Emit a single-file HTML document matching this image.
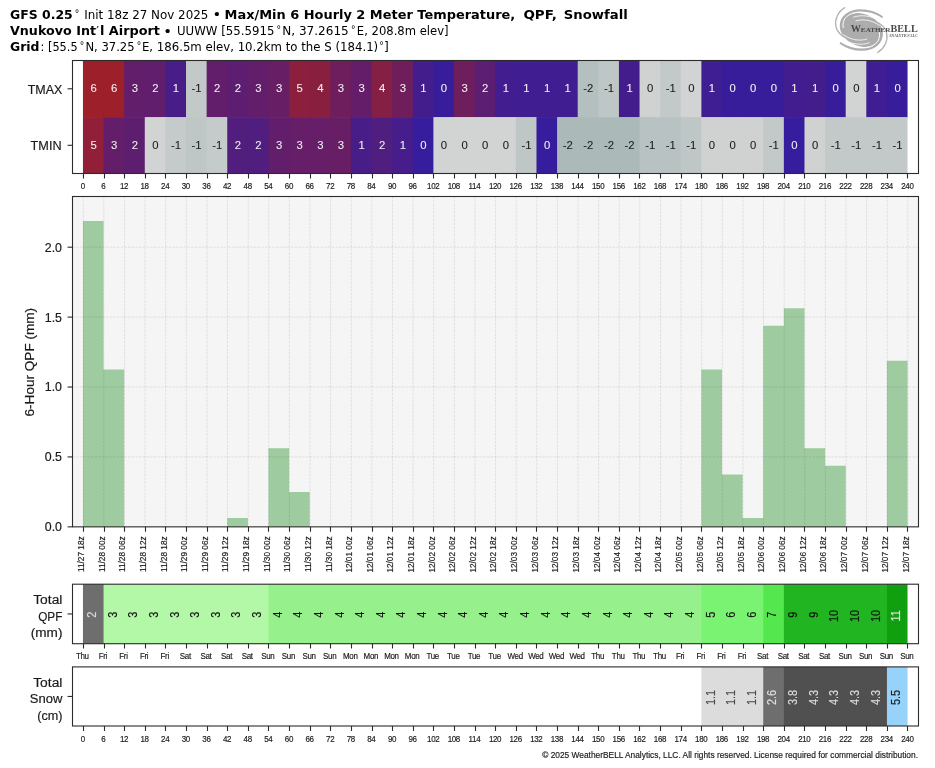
<!DOCTYPE html>
<html lang="en">
<head>
<meta charset="utf-8">
<title>GFS 0.25 Max/Min 6 Hourly 2 Meter Temperature, QPF, Snowfall - Vnukovo Int'l Airport</title>
<style>
html,body{margin:0;padding:0;background:#fff;}
body{width:935px;height:768px;overflow:hidden;}
svg{display:block;}
text{white-space:pre;}
</style>
</head>
<body>
<svg width="935" height="768" viewBox="0 0 935 768">
<rect x="0" y="0" width="935" height="768" fill="#ffffff"/>
<text x="10" y="18.8" font-family="'DejaVu Sans', 'Liberation Sans', sans-serif" font-size="12.6" font-weight="bold" textLength="62.7" lengthAdjust="spacingAndGlyphs" fill="#000" text-anchor="start">GFS 0.25</text>
<text x="75" y="16.9" font-family="'Liberation Sans', 'DejaVu Sans', sans-serif" font-size="10" fill="#000">°</text>
<text x="84.2" y="18.8" font-family="'DejaVu Sans', 'Liberation Sans', sans-serif" font-size="12.2" textLength="124.2" lengthAdjust="spacingAndGlyphs" fill="#000" text-anchor="start">Init 18z 27 Nov 2025</text>
<text x="214.2" y="19.4" font-family="'Liberation Sans', 'DejaVu Sans', sans-serif" font-size="15" fill="#000" text-anchor="start" stroke="#000" stroke-width="0.18">•</text>
<text x="224.6" y="18.8" font-family="'DejaVu Sans', 'Liberation Sans', sans-serif" font-size="12.6" font-weight="bold" textLength="290.6" lengthAdjust="spacingAndGlyphs" fill="#000" text-anchor="start">Max/Min 6 Hourly 2 Meter Temperature,</text>
<text x="523.4" y="18.8" font-family="'DejaVu Sans', 'Liberation Sans', sans-serif" font-size="12.6" font-weight="bold" textLength="33.4" lengthAdjust="spacingAndGlyphs" fill="#000" text-anchor="start">QPF,</text>
<text x="563.8" y="18.8" font-family="'DejaVu Sans', 'Liberation Sans', sans-serif" font-size="12.6" font-weight="bold" textLength="64" lengthAdjust="spacingAndGlyphs" fill="#000" text-anchor="start">Snowfall</text>
<text x="10" y="34.9" font-family="'DejaVu Sans', 'Liberation Sans', sans-serif" font-size="12.6" font-weight="bold" textLength="86" lengthAdjust="spacingAndGlyphs" fill="#000" text-anchor="start">Vnukovo Int</text>
<text x="96.3" y="34.9" font-family="'DejaVu Sans', 'Liberation Sans', sans-serif" font-size="12.2" fill="#000" text-anchor="start">′</text>
<text x="100" y="34.9" font-family="'DejaVu Sans', 'Liberation Sans', sans-serif" font-size="12.6" font-weight="bold" textLength="60" lengthAdjust="spacingAndGlyphs" fill="#000" text-anchor="start">l Airport</text>
<text x="165" y="35.5" font-family="'Liberation Sans', 'DejaVu Sans', sans-serif" font-size="15" fill="#000" text-anchor="start" stroke="#000" stroke-width="0.18">•</text>
<text x="177" y="34.9" font-family="'DejaVu Sans', 'Liberation Sans', sans-serif" font-size="12.2" textLength="97.4" lengthAdjust="spacingAndGlyphs" fill="#000" text-anchor="start">UUWW [55.5915</text>
<text x="276.8" y="33" font-family="'Liberation Sans', 'DejaVu Sans', sans-serif" font-size="10" fill="#000">°</text>
<text x="282.3" y="34.9" font-family="'DejaVu Sans', 'Liberation Sans', sans-serif" font-size="12.2" textLength="66.4" lengthAdjust="spacingAndGlyphs" fill="#000" text-anchor="start">N, 37.2615</text>
<text x="351.2" y="33" font-family="'Liberation Sans', 'DejaVu Sans', sans-serif" font-size="10" fill="#000">°</text>
<text x="356.8" y="34.9" font-family="'DejaVu Sans', 'Liberation Sans', sans-serif" font-size="12.2" textLength="91.8" lengthAdjust="spacingAndGlyphs" fill="#000" text-anchor="start">E, 208.8m elev]</text>
<text x="10" y="50.8" font-family="'DejaVu Sans', 'Liberation Sans', sans-serif" font-size="12.6" font-weight="bold" textLength="29.5" lengthAdjust="spacingAndGlyphs" fill="#000" text-anchor="start">Grid</text>
<text x="40.6" y="50.8" font-family="'DejaVu Sans', 'Liberation Sans', sans-serif" font-size="12.2" textLength="37" lengthAdjust="spacingAndGlyphs" fill="#000" text-anchor="start">: [55.5</text>
<text x="80" y="48.9" font-family="'Liberation Sans', 'DejaVu Sans', sans-serif" font-size="10" fill="#000">°</text>
<text x="85.4" y="50.8" font-family="'DejaVu Sans', 'Liberation Sans', sans-serif" font-size="12.2" textLength="49.2" lengthAdjust="spacingAndGlyphs" fill="#000" text-anchor="start">N, 37.25</text>
<text x="137" y="48.9" font-family="'Liberation Sans', 'DejaVu Sans', sans-serif" font-size="10" fill="#000">°</text>
<text x="141.9" y="50.8" font-family="'DejaVu Sans', 'Liberation Sans', sans-serif" font-size="12.2" textLength="236.3" lengthAdjust="spacingAndGlyphs" fill="#000" text-anchor="start">E, 186.5m elev, 10.2km to the S (184.1)</text>
<text x="379.6" y="48.9" font-family="'Liberation Sans', 'DejaVu Sans', sans-serif" font-size="10" fill="#000">°</text>
<text x="384" y="50.8" font-family="'DejaVu Sans', 'Liberation Sans', sans-serif" font-size="12.2" fill="#000" text-anchor="start">]</text>
<g id="logo">
<ellipse cx="861.3" cy="30.0" rx="22.3" ry="16.2" transform="rotate(22 861.3 30.0)" fill="#adadad"/>
<path d="M881.8 16.9C876 12.6 868 10.3 860.5 10.3C849 10.3 840.3 17 841.2 26.5C841.6 31 844 34.8 848 37.2" fill="none" stroke="#adadad" stroke-width="2.2" stroke-linecap="round"/>
<path d="M840.8 43.1C846.6 47.4 854.6 49.7 862.1 49.7C873.6 49.7 882.3 43 881.4 33.5C881 29 878.6 25.2 874.6 22.8" fill="none" stroke="#adadad" stroke-width="2.2" stroke-linecap="round"/>
<path d="M844.8 7.6C838 11.5 834.3 19.5 836 27C837.2 32 841.5 36.2 848 38.8" fill="none" stroke="#b2b2b2" stroke-width="1.3" stroke-linecap="round"/>
<path d="M877.8 52.4C884.6 48.5 888.3 40.5 886.6 33C885.4 28 881.1 23.8 874.6 21.2" fill="none" stroke="#b2b2b2" stroke-width="1.3" stroke-linecap="round"/>
<path d="M843.2 27.5C841.5 18.5 848.5 12.2 860.5 12.4C868 12.6 876 14.6 881.2 17.8" fill="none" stroke="#ffffff" stroke-width="1.0" stroke-linecap="round"/>
<path d="M879.4 32.5C881.1 41.5 874.1 47.8 862.1 47.6C854.6 47.4 846.6 45.4 841.4 42.2" fill="none" stroke="#ffffff" stroke-width="1.0" stroke-linecap="round"/>
<path d="M853.5 17.2C860 14.4 872 15.6 879.6 20.6" fill="none" stroke="#ffffff" stroke-width="0.8" stroke-linecap="round"/>
<path d="M869.1 42.8C862.6 45.6 850.6 44.4 843 39.4" fill="none" stroke="#ffffff" stroke-width="0.8" stroke-linecap="round"/>
<path d="M855.8 21C861.5 18.6 872 19.8 879.4 25.4" fill="none" stroke="#ffffff" stroke-width="0.8" stroke-linecap="round"/>
<path d="M866.8 39C861.1 41.4 850.6 40.2 843.2 34.6" fill="none" stroke="#ffffff" stroke-width="0.8" stroke-linecap="round"/>
<text x="850.7" y="32" font-family="'Liberation Serif', 'DejaVu Serif', serif" font-size="9.4" font-weight="bold" fill="#4a4a4a" textLength="67" lengthAdjust="spacingAndGlyphs">W<tspan font-size="6.6">EATHER</tspan>BELL</text>
<text x="889" y="36.7" font-family="'Liberation Serif', 'DejaVu Serif', serif" font-size="3.2" font-weight="bold" fill="#555" textLength="28.8" lengthAdjust="spacingAndGlyphs">ANALYTICS LLC</text>
</g>
<rect x="82.95" y="60.5" width="21.61" height="57.1" fill="#9c1f29"/>
<rect x="103.56" y="60.5" width="21.61" height="57.1" fill="#9c1f29"/>
<rect x="124.18" y="60.5" width="21.61" height="57.1" fill="#621e6b"/>
<rect x="144.79" y="60.5" width="21.61" height="57.1" fill="#601e6d"/>
<rect x="165.41" y="60.5" width="21.61" height="57.1" fill="#491d87"/>
<rect x="186.02" y="60.5" width="21.61" height="57.1" fill="#c3c9c9"/>
<rect x="206.64" y="60.5" width="21.61" height="57.1" fill="#621e6b"/>
<rect x="227.25" y="60.5" width="21.61" height="57.1" fill="#5d1e71"/>
<rect x="247.87" y="60.5" width="21.61" height="57.1" fill="#621e6b"/>
<rect x="268.48" y="60.5" width="21.61" height="57.1" fill="#671e65"/>
<rect x="289.1" y="60.5" width="21.61" height="57.1" fill="#8b1f3d"/>
<rect x="309.71" y="60.5" width="21.61" height="57.1" fill="#891f3f"/>
<rect x="330.33" y="60.5" width="21.61" height="57.1" fill="#6e1e5d"/>
<rect x="350.94" y="60.5" width="21.61" height="57.1" fill="#641e69"/>
<rect x="371.56" y="60.5" width="21.61" height="57.1" fill="#851f43"/>
<rect x="392.17" y="60.5" width="21.61" height="57.1" fill="#701e5b"/>
<rect x="412.79" y="60.5" width="21.61" height="57.1" fill="#441d8d"/>
<rect x="433.4" y="60.5" width="21.61" height="57.1" fill="#381d9b"/>
<rect x="454.02" y="60.5" width="21.61" height="57.1" fill="#6e1e5d"/>
<rect x="474.63" y="60.5" width="21.61" height="57.1" fill="#5b1e73"/>
<rect x="495.25" y="60.5" width="21.61" height="57.1" fill="#421d8f"/>
<rect x="515.86" y="60.5" width="21.61" height="57.1" fill="#401d91"/>
<rect x="536.48" y="60.5" width="21.61" height="57.1" fill="#401d91"/>
<rect x="557.09" y="60.5" width="21.61" height="57.1" fill="#401d91"/>
<rect x="577.71" y="60.5" width="21.61" height="57.1" fill="#b4c0bf"/>
<rect x="598.32" y="60.5" width="21.61" height="57.1" fill="#bec6c6"/>
<rect x="618.93" y="60.5" width="21.61" height="57.1" fill="#441d8d"/>
<rect x="639.55" y="60.5" width="21.61" height="57.1" fill="#d0d1d1"/>
<rect x="660.16" y="60.5" width="21.61" height="57.1" fill="#c3c9c9"/>
<rect x="680.78" y="60.5" width="21.61" height="57.1" fill="#d2d3d3"/>
<rect x="701.39" y="60.5" width="21.61" height="57.1" fill="#3f1d93"/>
<rect x="722.01" y="60.5" width="21.61" height="57.1" fill="#381d9b"/>
<rect x="742.62" y="60.5" width="21.61" height="57.1" fill="#381d9b"/>
<rect x="763.24" y="60.5" width="21.61" height="57.1" fill="#381d9b"/>
<rect x="783.85" y="60.5" width="21.61" height="57.1" fill="#421d8f"/>
<rect x="804.47" y="60.5" width="21.61" height="57.1" fill="#441d8d"/>
<rect x="825.08" y="60.5" width="21.61" height="57.1" fill="#381d9b"/>
<rect x="845.7" y="60.5" width="21.61" height="57.1" fill="#d2d3d3"/>
<rect x="866.31" y="60.5" width="21.61" height="57.1" fill="#3f1d93"/>
<rect x="886.93" y="60.5" width="20.61" height="57.1" fill="#381d9b"/>
<rect x="82.95" y="117.1" width="21.61" height="56.4" fill="#901f37"/>
<rect x="103.56" y="117.1" width="21.61" height="56.4" fill="#641e69"/>
<rect x="124.18" y="117.1" width="21.61" height="56.4" fill="#5e1e6f"/>
<rect x="144.79" y="117.1" width="21.61" height="56.4" fill="#d2d3d3"/>
<rect x="165.41" y="117.1" width="21.61" height="56.4" fill="#c5cbca"/>
<rect x="186.02" y="117.1" width="21.61" height="56.4" fill="#bec6c6"/>
<rect x="206.64" y="117.1" width="21.61" height="56.4" fill="#c5cbca"/>
<rect x="227.25" y="117.1" width="21.61" height="56.4" fill="#521e7d"/>
<rect x="247.87" y="117.1" width="21.61" height="56.4" fill="#501e7f"/>
<rect x="268.48" y="117.1" width="21.61" height="56.4" fill="#621e6b"/>
<rect x="289.1" y="117.1" width="21.61" height="56.4" fill="#651e67"/>
<rect x="309.71" y="117.1" width="21.61" height="56.4" fill="#651e67"/>
<rect x="330.33" y="117.1" width="21.61" height="56.4" fill="#671e65"/>
<rect x="350.94" y="117.1" width="21.61" height="56.4" fill="#491d87"/>
<rect x="371.56" y="117.1" width="21.61" height="56.4" fill="#501e7f"/>
<rect x="392.17" y="117.1" width="21.61" height="56.4" fill="#461d8b"/>
<rect x="412.79" y="117.1" width="21.61" height="56.4" fill="#361d9d"/>
<rect x="433.4" y="117.1" width="21.61" height="56.4" fill="#d2d3d3"/>
<rect x="454.02" y="117.1" width="21.61" height="56.4" fill="#d2d3d3"/>
<rect x="474.63" y="117.1" width="21.61" height="56.4" fill="#d2d3d3"/>
<rect x="495.25" y="117.1" width="21.61" height="56.4" fill="#d2d3d3"/>
<rect x="515.86" y="117.1" width="21.61" height="56.4" fill="#bec6c6"/>
<rect x="536.48" y="117.1" width="21.61" height="56.4" fill="#361d9d"/>
<rect x="557.09" y="117.1" width="21.61" height="56.4" fill="#abbab9"/>
<rect x="577.71" y="117.1" width="21.61" height="56.4" fill="#abbab9"/>
<rect x="598.32" y="117.1" width="21.61" height="56.4" fill="#abbab9"/>
<rect x="618.93" y="117.1" width="21.61" height="56.4" fill="#abbab9"/>
<rect x="639.55" y="117.1" width="21.61" height="56.4" fill="#b8c2c2"/>
<rect x="660.16" y="117.1" width="21.61" height="56.4" fill="#b8c2c2"/>
<rect x="680.78" y="117.1" width="21.61" height="56.4" fill="#bec6c6"/>
<rect x="701.39" y="117.1" width="21.61" height="56.4" fill="#d0d1d1"/>
<rect x="722.01" y="117.1" width="21.61" height="56.4" fill="#d0d1d1"/>
<rect x="742.62" y="117.1" width="21.61" height="56.4" fill="#d0d1d1"/>
<rect x="763.24" y="117.1" width="21.61" height="56.4" fill="#c3c9c9"/>
<rect x="783.85" y="117.1" width="21.61" height="56.4" fill="#361d9d"/>
<rect x="804.47" y="117.1" width="21.61" height="56.4" fill="#d0d1d1"/>
<rect x="825.08" y="117.1" width="21.61" height="56.4" fill="#c3c9c9"/>
<rect x="845.7" y="117.1" width="21.61" height="56.4" fill="#c3c9c9"/>
<rect x="866.31" y="117.1" width="21.61" height="56.4" fill="#c3c9c9"/>
<rect x="886.93" y="117.1" width="20.61" height="56.4" fill="#c3c9c9"/>
<text x="93.56" y="92" font-family="'Liberation Sans', 'DejaVu Sans', sans-serif" font-size="11.3" fill="#f0f0f0" stroke="#f0f0f0" stroke-width="0.08" text-anchor="middle">6</text>
<text x="93.56" y="148.5" font-family="'Liberation Sans', 'DejaVu Sans', sans-serif" font-size="11.3" fill="#f0f0f0" stroke="#f0f0f0" stroke-width="0.08" text-anchor="middle">5</text>
<text x="114.17" y="92" font-family="'Liberation Sans', 'DejaVu Sans', sans-serif" font-size="11.3" fill="#f0f0f0" stroke="#f0f0f0" stroke-width="0.08" text-anchor="middle">6</text>
<text x="114.17" y="148.5" font-family="'Liberation Sans', 'DejaVu Sans', sans-serif" font-size="11.3" fill="#f0f0f0" stroke="#f0f0f0" stroke-width="0.08" text-anchor="middle">3</text>
<text x="134.79" y="92" font-family="'Liberation Sans', 'DejaVu Sans', sans-serif" font-size="11.3" fill="#f0f0f0" stroke="#f0f0f0" stroke-width="0.08" text-anchor="middle">3</text>
<text x="134.79" y="148.5" font-family="'Liberation Sans', 'DejaVu Sans', sans-serif" font-size="11.3" fill="#f0f0f0" stroke="#f0f0f0" stroke-width="0.08" text-anchor="middle">2</text>
<text x="155.4" y="92" font-family="'Liberation Sans', 'DejaVu Sans', sans-serif" font-size="11.3" fill="#f0f0f0" stroke="#f0f0f0" stroke-width="0.08" text-anchor="middle">2</text>
<text x="155.4" y="148.5" font-family="'Liberation Sans', 'DejaVu Sans', sans-serif" font-size="11.3" fill="#1a1a1a" stroke="#1a1a1a" stroke-width="0.08" text-anchor="middle">0</text>
<text x="176.02" y="92" font-family="'Liberation Sans', 'DejaVu Sans', sans-serif" font-size="11.3" fill="#f0f0f0" stroke="#f0f0f0" stroke-width="0.08" text-anchor="middle">1</text>
<text x="176.02" y="148.5" font-family="'Liberation Sans', 'DejaVu Sans', sans-serif" font-size="11.3" fill="#1a1a1a" stroke="#1a1a1a" stroke-width="0.08" text-anchor="middle">-1</text>
<text x="196.63" y="92" font-family="'Liberation Sans', 'DejaVu Sans', sans-serif" font-size="11.3" fill="#1a1a1a" stroke="#1a1a1a" stroke-width="0.08" text-anchor="middle">-1</text>
<text x="196.63" y="148.5" font-family="'Liberation Sans', 'DejaVu Sans', sans-serif" font-size="11.3" fill="#1a1a1a" stroke="#1a1a1a" stroke-width="0.08" text-anchor="middle">-1</text>
<text x="217.25" y="92" font-family="'Liberation Sans', 'DejaVu Sans', sans-serif" font-size="11.3" fill="#f0f0f0" stroke="#f0f0f0" stroke-width="0.08" text-anchor="middle">2</text>
<text x="217.25" y="148.5" font-family="'Liberation Sans', 'DejaVu Sans', sans-serif" font-size="11.3" fill="#1a1a1a" stroke="#1a1a1a" stroke-width="0.08" text-anchor="middle">-1</text>
<text x="237.86" y="92" font-family="'Liberation Sans', 'DejaVu Sans', sans-serif" font-size="11.3" fill="#f0f0f0" stroke="#f0f0f0" stroke-width="0.08" text-anchor="middle">2</text>
<text x="237.86" y="148.5" font-family="'Liberation Sans', 'DejaVu Sans', sans-serif" font-size="11.3" fill="#f0f0f0" stroke="#f0f0f0" stroke-width="0.08" text-anchor="middle">2</text>
<text x="258.48" y="92" font-family="'Liberation Sans', 'DejaVu Sans', sans-serif" font-size="11.3" fill="#f0f0f0" stroke="#f0f0f0" stroke-width="0.08" text-anchor="middle">3</text>
<text x="258.48" y="148.5" font-family="'Liberation Sans', 'DejaVu Sans', sans-serif" font-size="11.3" fill="#f0f0f0" stroke="#f0f0f0" stroke-width="0.08" text-anchor="middle">2</text>
<text x="279.09" y="92" font-family="'Liberation Sans', 'DejaVu Sans', sans-serif" font-size="11.3" fill="#f0f0f0" stroke="#f0f0f0" stroke-width="0.08" text-anchor="middle">3</text>
<text x="279.09" y="148.5" font-family="'Liberation Sans', 'DejaVu Sans', sans-serif" font-size="11.3" fill="#f0f0f0" stroke="#f0f0f0" stroke-width="0.08" text-anchor="middle">3</text>
<text x="299.71" y="92" font-family="'Liberation Sans', 'DejaVu Sans', sans-serif" font-size="11.3" fill="#f0f0f0" stroke="#f0f0f0" stroke-width="0.08" text-anchor="middle">5</text>
<text x="299.71" y="148.5" font-family="'Liberation Sans', 'DejaVu Sans', sans-serif" font-size="11.3" fill="#f0f0f0" stroke="#f0f0f0" stroke-width="0.08" text-anchor="middle">3</text>
<text x="320.32" y="92" font-family="'Liberation Sans', 'DejaVu Sans', sans-serif" font-size="11.3" fill="#f0f0f0" stroke="#f0f0f0" stroke-width="0.08" text-anchor="middle">4</text>
<text x="320.32" y="148.5" font-family="'Liberation Sans', 'DejaVu Sans', sans-serif" font-size="11.3" fill="#f0f0f0" stroke="#f0f0f0" stroke-width="0.08" text-anchor="middle">3</text>
<text x="340.94" y="92" font-family="'Liberation Sans', 'DejaVu Sans', sans-serif" font-size="11.3" fill="#f0f0f0" stroke="#f0f0f0" stroke-width="0.08" text-anchor="middle">3</text>
<text x="340.94" y="148.5" font-family="'Liberation Sans', 'DejaVu Sans', sans-serif" font-size="11.3" fill="#f0f0f0" stroke="#f0f0f0" stroke-width="0.08" text-anchor="middle">3</text>
<text x="361.55" y="92" font-family="'Liberation Sans', 'DejaVu Sans', sans-serif" font-size="11.3" fill="#f0f0f0" stroke="#f0f0f0" stroke-width="0.08" text-anchor="middle">3</text>
<text x="361.55" y="148.5" font-family="'Liberation Sans', 'DejaVu Sans', sans-serif" font-size="11.3" fill="#f0f0f0" stroke="#f0f0f0" stroke-width="0.08" text-anchor="middle">1</text>
<text x="382.16" y="92" font-family="'Liberation Sans', 'DejaVu Sans', sans-serif" font-size="11.3" fill="#f0f0f0" stroke="#f0f0f0" stroke-width="0.08" text-anchor="middle">4</text>
<text x="382.16" y="148.5" font-family="'Liberation Sans', 'DejaVu Sans', sans-serif" font-size="11.3" fill="#f0f0f0" stroke="#f0f0f0" stroke-width="0.08" text-anchor="middle">2</text>
<text x="402.78" y="92" font-family="'Liberation Sans', 'DejaVu Sans', sans-serif" font-size="11.3" fill="#f0f0f0" stroke="#f0f0f0" stroke-width="0.08" text-anchor="middle">3</text>
<text x="402.78" y="148.5" font-family="'Liberation Sans', 'DejaVu Sans', sans-serif" font-size="11.3" fill="#f0f0f0" stroke="#f0f0f0" stroke-width="0.08" text-anchor="middle">1</text>
<text x="423.39" y="92" font-family="'Liberation Sans', 'DejaVu Sans', sans-serif" font-size="11.3" fill="#f0f0f0" stroke="#f0f0f0" stroke-width="0.08" text-anchor="middle">1</text>
<text x="423.39" y="148.5" font-family="'Liberation Sans', 'DejaVu Sans', sans-serif" font-size="11.3" fill="#f0f0f0" stroke="#f0f0f0" stroke-width="0.08" text-anchor="middle">0</text>
<text x="444.01" y="92" font-family="'Liberation Sans', 'DejaVu Sans', sans-serif" font-size="11.3" fill="#f0f0f0" stroke="#f0f0f0" stroke-width="0.08" text-anchor="middle">0</text>
<text x="444.01" y="148.5" font-family="'Liberation Sans', 'DejaVu Sans', sans-serif" font-size="11.3" fill="#1a1a1a" stroke="#1a1a1a" stroke-width="0.08" text-anchor="middle">0</text>
<text x="464.62" y="92" font-family="'Liberation Sans', 'DejaVu Sans', sans-serif" font-size="11.3" fill="#f0f0f0" stroke="#f0f0f0" stroke-width="0.08" text-anchor="middle">3</text>
<text x="464.62" y="148.5" font-family="'Liberation Sans', 'DejaVu Sans', sans-serif" font-size="11.3" fill="#1a1a1a" stroke="#1a1a1a" stroke-width="0.08" text-anchor="middle">0</text>
<text x="485.24" y="92" font-family="'Liberation Sans', 'DejaVu Sans', sans-serif" font-size="11.3" fill="#f0f0f0" stroke="#f0f0f0" stroke-width="0.08" text-anchor="middle">2</text>
<text x="485.24" y="148.5" font-family="'Liberation Sans', 'DejaVu Sans', sans-serif" font-size="11.3" fill="#1a1a1a" stroke="#1a1a1a" stroke-width="0.08" text-anchor="middle">0</text>
<text x="505.85" y="92" font-family="'Liberation Sans', 'DejaVu Sans', sans-serif" font-size="11.3" fill="#f0f0f0" stroke="#f0f0f0" stroke-width="0.08" text-anchor="middle">1</text>
<text x="505.85" y="148.5" font-family="'Liberation Sans', 'DejaVu Sans', sans-serif" font-size="11.3" fill="#1a1a1a" stroke="#1a1a1a" stroke-width="0.08" text-anchor="middle">0</text>
<text x="526.47" y="92" font-family="'Liberation Sans', 'DejaVu Sans', sans-serif" font-size="11.3" fill="#f0f0f0" stroke="#f0f0f0" stroke-width="0.08" text-anchor="middle">1</text>
<text x="526.47" y="148.5" font-family="'Liberation Sans', 'DejaVu Sans', sans-serif" font-size="11.3" fill="#1a1a1a" stroke="#1a1a1a" stroke-width="0.08" text-anchor="middle">-1</text>
<text x="547.08" y="92" font-family="'Liberation Sans', 'DejaVu Sans', sans-serif" font-size="11.3" fill="#f0f0f0" stroke="#f0f0f0" stroke-width="0.08" text-anchor="middle">1</text>
<text x="547.08" y="148.5" font-family="'Liberation Sans', 'DejaVu Sans', sans-serif" font-size="11.3" fill="#f0f0f0" stroke="#f0f0f0" stroke-width="0.08" text-anchor="middle">0</text>
<text x="567.7" y="92" font-family="'Liberation Sans', 'DejaVu Sans', sans-serif" font-size="11.3" fill="#f0f0f0" stroke="#f0f0f0" stroke-width="0.08" text-anchor="middle">1</text>
<text x="567.7" y="148.5" font-family="'Liberation Sans', 'DejaVu Sans', sans-serif" font-size="11.3" fill="#1a1a1a" stroke="#1a1a1a" stroke-width="0.08" text-anchor="middle">-2</text>
<text x="588.31" y="92" font-family="'Liberation Sans', 'DejaVu Sans', sans-serif" font-size="11.3" fill="#1a1a1a" stroke="#1a1a1a" stroke-width="0.08" text-anchor="middle">-2</text>
<text x="588.31" y="148.5" font-family="'Liberation Sans', 'DejaVu Sans', sans-serif" font-size="11.3" fill="#1a1a1a" stroke="#1a1a1a" stroke-width="0.08" text-anchor="middle">-2</text>
<text x="608.93" y="92" font-family="'Liberation Sans', 'DejaVu Sans', sans-serif" font-size="11.3" fill="#1a1a1a" stroke="#1a1a1a" stroke-width="0.08" text-anchor="middle">-1</text>
<text x="608.93" y="148.5" font-family="'Liberation Sans', 'DejaVu Sans', sans-serif" font-size="11.3" fill="#1a1a1a" stroke="#1a1a1a" stroke-width="0.08" text-anchor="middle">-2</text>
<text x="629.54" y="92" font-family="'Liberation Sans', 'DejaVu Sans', sans-serif" font-size="11.3" fill="#f0f0f0" stroke="#f0f0f0" stroke-width="0.08" text-anchor="middle">1</text>
<text x="629.54" y="148.5" font-family="'Liberation Sans', 'DejaVu Sans', sans-serif" font-size="11.3" fill="#1a1a1a" stroke="#1a1a1a" stroke-width="0.08" text-anchor="middle">-2</text>
<text x="650.16" y="92" font-family="'Liberation Sans', 'DejaVu Sans', sans-serif" font-size="11.3" fill="#1a1a1a" stroke="#1a1a1a" stroke-width="0.08" text-anchor="middle">0</text>
<text x="650.16" y="148.5" font-family="'Liberation Sans', 'DejaVu Sans', sans-serif" font-size="11.3" fill="#1a1a1a" stroke="#1a1a1a" stroke-width="0.08" text-anchor="middle">-1</text>
<text x="670.77" y="92" font-family="'Liberation Sans', 'DejaVu Sans', sans-serif" font-size="11.3" fill="#1a1a1a" stroke="#1a1a1a" stroke-width="0.08" text-anchor="middle">-1</text>
<text x="670.77" y="148.5" font-family="'Liberation Sans', 'DejaVu Sans', sans-serif" font-size="11.3" fill="#1a1a1a" stroke="#1a1a1a" stroke-width="0.08" text-anchor="middle">-1</text>
<text x="691.39" y="92" font-family="'Liberation Sans', 'DejaVu Sans', sans-serif" font-size="11.3" fill="#1a1a1a" stroke="#1a1a1a" stroke-width="0.08" text-anchor="middle">0</text>
<text x="691.39" y="148.5" font-family="'Liberation Sans', 'DejaVu Sans', sans-serif" font-size="11.3" fill="#1a1a1a" stroke="#1a1a1a" stroke-width="0.08" text-anchor="middle">-1</text>
<text x="712" y="92" font-family="'Liberation Sans', 'DejaVu Sans', sans-serif" font-size="11.3" fill="#f0f0f0" stroke="#f0f0f0" stroke-width="0.08" text-anchor="middle">1</text>
<text x="712" y="148.5" font-family="'Liberation Sans', 'DejaVu Sans', sans-serif" font-size="11.3" fill="#1a1a1a" stroke="#1a1a1a" stroke-width="0.08" text-anchor="middle">0</text>
<text x="732.62" y="92" font-family="'Liberation Sans', 'DejaVu Sans', sans-serif" font-size="11.3" fill="#f0f0f0" stroke="#f0f0f0" stroke-width="0.08" text-anchor="middle">0</text>
<text x="732.62" y="148.5" font-family="'Liberation Sans', 'DejaVu Sans', sans-serif" font-size="11.3" fill="#1a1a1a" stroke="#1a1a1a" stroke-width="0.08" text-anchor="middle">0</text>
<text x="753.23" y="92" font-family="'Liberation Sans', 'DejaVu Sans', sans-serif" font-size="11.3" fill="#f0f0f0" stroke="#f0f0f0" stroke-width="0.08" text-anchor="middle">0</text>
<text x="753.23" y="148.5" font-family="'Liberation Sans', 'DejaVu Sans', sans-serif" font-size="11.3" fill="#1a1a1a" stroke="#1a1a1a" stroke-width="0.08" text-anchor="middle">0</text>
<text x="773.85" y="92" font-family="'Liberation Sans', 'DejaVu Sans', sans-serif" font-size="11.3" fill="#f0f0f0" stroke="#f0f0f0" stroke-width="0.08" text-anchor="middle">0</text>
<text x="773.85" y="148.5" font-family="'Liberation Sans', 'DejaVu Sans', sans-serif" font-size="11.3" fill="#1a1a1a" stroke="#1a1a1a" stroke-width="0.08" text-anchor="middle">-1</text>
<text x="794.46" y="92" font-family="'Liberation Sans', 'DejaVu Sans', sans-serif" font-size="11.3" fill="#f0f0f0" stroke="#f0f0f0" stroke-width="0.08" text-anchor="middle">1</text>
<text x="794.46" y="148.5" font-family="'Liberation Sans', 'DejaVu Sans', sans-serif" font-size="11.3" fill="#f0f0f0" stroke="#f0f0f0" stroke-width="0.08" text-anchor="middle">0</text>
<text x="815.08" y="92" font-family="'Liberation Sans', 'DejaVu Sans', sans-serif" font-size="11.3" fill="#f0f0f0" stroke="#f0f0f0" stroke-width="0.08" text-anchor="middle">1</text>
<text x="815.08" y="148.5" font-family="'Liberation Sans', 'DejaVu Sans', sans-serif" font-size="11.3" fill="#1a1a1a" stroke="#1a1a1a" stroke-width="0.08" text-anchor="middle">0</text>
<text x="835.69" y="92" font-family="'Liberation Sans', 'DejaVu Sans', sans-serif" font-size="11.3" fill="#f0f0f0" stroke="#f0f0f0" stroke-width="0.08" text-anchor="middle">0</text>
<text x="835.69" y="148.5" font-family="'Liberation Sans', 'DejaVu Sans', sans-serif" font-size="11.3" fill="#1a1a1a" stroke="#1a1a1a" stroke-width="0.08" text-anchor="middle">-1</text>
<text x="856.3" y="92" font-family="'Liberation Sans', 'DejaVu Sans', sans-serif" font-size="11.3" fill="#1a1a1a" stroke="#1a1a1a" stroke-width="0.08" text-anchor="middle">0</text>
<text x="856.3" y="148.5" font-family="'Liberation Sans', 'DejaVu Sans', sans-serif" font-size="11.3" fill="#1a1a1a" stroke="#1a1a1a" stroke-width="0.08" text-anchor="middle">-1</text>
<text x="876.92" y="92" font-family="'Liberation Sans', 'DejaVu Sans', sans-serif" font-size="11.3" fill="#f0f0f0" stroke="#f0f0f0" stroke-width="0.08" text-anchor="middle">1</text>
<text x="876.92" y="148.5" font-family="'Liberation Sans', 'DejaVu Sans', sans-serif" font-size="11.3" fill="#1a1a1a" stroke="#1a1a1a" stroke-width="0.08" text-anchor="middle">-1</text>
<text x="897.53" y="92" font-family="'Liberation Sans', 'DejaVu Sans', sans-serif" font-size="11.3" fill="#f0f0f0" stroke="#f0f0f0" stroke-width="0.08" text-anchor="middle">0</text>
<text x="897.53" y="148.5" font-family="'Liberation Sans', 'DejaVu Sans', sans-serif" font-size="11.3" fill="#1a1a1a" stroke="#1a1a1a" stroke-width="0.08" text-anchor="middle">-1</text>
<rect x="72.5" y="60.5" width="846.0" height="113" fill="none" stroke="#2b2b2b" stroke-width="1.1"/>
<path d="M83.5 173.5v4.9M104.5 173.5v4.9M124.5 173.5v4.9M145.5 173.5v4.9M165.5 173.5v4.9M186.5 173.5v4.9M207.5 173.5v4.9M227.5 173.5v4.9M248.5 173.5v4.9M268.5 173.5v4.9M289.5 173.5v4.9M310.5 173.5v4.9M330.5 173.5v4.9M351.5 173.5v4.9M372.5 173.5v4.9M392.5 173.5v4.9M413.5 173.5v4.9M433.5 173.5v4.9M454.5 173.5v4.9M475.5 173.5v4.9M495.5 173.5v4.9M516.5 173.5v4.9M536.5 173.5v4.9M557.5 173.5v4.9M578.5 173.5v4.9M598.5 173.5v4.9M619.5 173.5v4.9M639.5 173.5v4.9M660.5 173.5v4.9M681.5 173.5v4.9M701.5 173.5v4.9M722.5 173.5v4.9M743.5 173.5v4.9M763.5 173.5v4.9M784.5 173.5v4.9M804.5 173.5v4.9M825.5 173.5v4.9M846.5 173.5v4.9M866.5 173.5v4.9M887.5 173.5v4.9M907.5 173.5v4.9" stroke="#2b2b2b" stroke-width="1.1" fill="none"/>
<path d="M72.5 88.8h-4.9" stroke="#2b2b2b" stroke-width="1.1" fill="none"/>
<path d="M72.5 145.3h-4.9" stroke="#2b2b2b" stroke-width="1.1" fill="none"/>
<text x="62.3" y="93.6" font-family="'Liberation Sans', 'DejaVu Sans', sans-serif" font-size="12.5" textLength="34.6" lengthAdjust="spacingAndGlyphs" fill="#1a1a1a" text-anchor="end" stroke="#1a1a1a" stroke-width="0.18">TMAX</text>
<text x="61.6" y="149.8" font-family="'Liberation Sans', 'DejaVu Sans', sans-serif" font-size="12.5" textLength="31" lengthAdjust="spacingAndGlyphs" fill="#1a1a1a" text-anchor="end" stroke="#1a1a1a" stroke-width="0.18">TMIN</text>
<text transform="translate(82.75,189.1) scale(0.83,1)" font-family="'Liberation Sans', 'DejaVu Sans', sans-serif" font-size="9.6" fill="#1a1a1a" stroke="#1a1a1a" stroke-width="0.18" text-anchor="middle" letter-spacing="-0.4">0</text>
<text transform="translate(103.36,189.1) scale(0.83,1)" font-family="'Liberation Sans', 'DejaVu Sans', sans-serif" font-size="9.6" fill="#1a1a1a" stroke="#1a1a1a" stroke-width="0.18" text-anchor="middle" letter-spacing="-0.4">6</text>
<text transform="translate(123.98,189.1) scale(0.83,1)" font-family="'Liberation Sans', 'DejaVu Sans', sans-serif" font-size="9.6" fill="#1a1a1a" stroke="#1a1a1a" stroke-width="0.18" text-anchor="middle" letter-spacing="-0.4">12</text>
<text transform="translate(144.59,189.1) scale(0.83,1)" font-family="'Liberation Sans', 'DejaVu Sans', sans-serif" font-size="9.6" fill="#1a1a1a" stroke="#1a1a1a" stroke-width="0.18" text-anchor="middle" letter-spacing="-0.4">18</text>
<text transform="translate(165.21,189.1) scale(0.83,1)" font-family="'Liberation Sans', 'DejaVu Sans', sans-serif" font-size="9.6" fill="#1a1a1a" stroke="#1a1a1a" stroke-width="0.18" text-anchor="middle" letter-spacing="-0.4">24</text>
<text transform="translate(185.82,189.1) scale(0.83,1)" font-family="'Liberation Sans', 'DejaVu Sans', sans-serif" font-size="9.6" fill="#1a1a1a" stroke="#1a1a1a" stroke-width="0.18" text-anchor="middle" letter-spacing="-0.4">30</text>
<text transform="translate(206.44,189.1) scale(0.83,1)" font-family="'Liberation Sans', 'DejaVu Sans', sans-serif" font-size="9.6" fill="#1a1a1a" stroke="#1a1a1a" stroke-width="0.18" text-anchor="middle" letter-spacing="-0.4">36</text>
<text transform="translate(227.05,189.1) scale(0.83,1)" font-family="'Liberation Sans', 'DejaVu Sans', sans-serif" font-size="9.6" fill="#1a1a1a" stroke="#1a1a1a" stroke-width="0.18" text-anchor="middle" letter-spacing="-0.4">42</text>
<text transform="translate(247.67,189.1) scale(0.83,1)" font-family="'Liberation Sans', 'DejaVu Sans', sans-serif" font-size="9.6" fill="#1a1a1a" stroke="#1a1a1a" stroke-width="0.18" text-anchor="middle" letter-spacing="-0.4">48</text>
<text transform="translate(268.28,189.1) scale(0.83,1)" font-family="'Liberation Sans', 'DejaVu Sans', sans-serif" font-size="9.6" fill="#1a1a1a" stroke="#1a1a1a" stroke-width="0.18" text-anchor="middle" letter-spacing="-0.4">54</text>
<text transform="translate(288.9,189.1) scale(0.83,1)" font-family="'Liberation Sans', 'DejaVu Sans', sans-serif" font-size="9.6" fill="#1a1a1a" stroke="#1a1a1a" stroke-width="0.18" text-anchor="middle" letter-spacing="-0.4">60</text>
<text transform="translate(309.51,189.1) scale(0.83,1)" font-family="'Liberation Sans', 'DejaVu Sans', sans-serif" font-size="9.6" fill="#1a1a1a" stroke="#1a1a1a" stroke-width="0.18" text-anchor="middle" letter-spacing="-0.4">66</text>
<text transform="translate(330.13,189.1) scale(0.83,1)" font-family="'Liberation Sans', 'DejaVu Sans', sans-serif" font-size="9.6" fill="#1a1a1a" stroke="#1a1a1a" stroke-width="0.18" text-anchor="middle" letter-spacing="-0.4">72</text>
<text transform="translate(350.74,189.1) scale(0.83,1)" font-family="'Liberation Sans', 'DejaVu Sans', sans-serif" font-size="9.6" fill="#1a1a1a" stroke="#1a1a1a" stroke-width="0.18" text-anchor="middle" letter-spacing="-0.4">78</text>
<text transform="translate(371.36,189.1) scale(0.83,1)" font-family="'Liberation Sans', 'DejaVu Sans', sans-serif" font-size="9.6" fill="#1a1a1a" stroke="#1a1a1a" stroke-width="0.18" text-anchor="middle" letter-spacing="-0.4">84</text>
<text transform="translate(391.97,189.1) scale(0.83,1)" font-family="'Liberation Sans', 'DejaVu Sans', sans-serif" font-size="9.6" fill="#1a1a1a" stroke="#1a1a1a" stroke-width="0.18" text-anchor="middle" letter-spacing="-0.4">90</text>
<text transform="translate(412.59,189.1) scale(0.83,1)" font-family="'Liberation Sans', 'DejaVu Sans', sans-serif" font-size="9.6" fill="#1a1a1a" stroke="#1a1a1a" stroke-width="0.18" text-anchor="middle" letter-spacing="-0.4">96</text>
<text transform="translate(433.2,189.1) scale(0.83,1)" font-family="'Liberation Sans', 'DejaVu Sans', sans-serif" font-size="9.6" fill="#1a1a1a" stroke="#1a1a1a" stroke-width="0.18" text-anchor="middle" letter-spacing="-0.4">102</text>
<text transform="translate(453.82,189.1) scale(0.83,1)" font-family="'Liberation Sans', 'DejaVu Sans', sans-serif" font-size="9.6" fill="#1a1a1a" stroke="#1a1a1a" stroke-width="0.18" text-anchor="middle" letter-spacing="-0.4">108</text>
<text transform="translate(474.43,189.1) scale(0.83,1)" font-family="'Liberation Sans', 'DejaVu Sans', sans-serif" font-size="9.6" fill="#1a1a1a" stroke="#1a1a1a" stroke-width="0.18" text-anchor="middle" letter-spacing="-0.4">114</text>
<text transform="translate(495.05,189.1) scale(0.83,1)" font-family="'Liberation Sans', 'DejaVu Sans', sans-serif" font-size="9.6" fill="#1a1a1a" stroke="#1a1a1a" stroke-width="0.18" text-anchor="middle" letter-spacing="-0.4">120</text>
<text transform="translate(515.66,189.1) scale(0.83,1)" font-family="'Liberation Sans', 'DejaVu Sans', sans-serif" font-size="9.6" fill="#1a1a1a" stroke="#1a1a1a" stroke-width="0.18" text-anchor="middle" letter-spacing="-0.4">126</text>
<text transform="translate(536.28,189.1) scale(0.83,1)" font-family="'Liberation Sans', 'DejaVu Sans', sans-serif" font-size="9.6" fill="#1a1a1a" stroke="#1a1a1a" stroke-width="0.18" text-anchor="middle" letter-spacing="-0.4">132</text>
<text transform="translate(556.89,189.1) scale(0.83,1)" font-family="'Liberation Sans', 'DejaVu Sans', sans-serif" font-size="9.6" fill="#1a1a1a" stroke="#1a1a1a" stroke-width="0.18" text-anchor="middle" letter-spacing="-0.4">138</text>
<text transform="translate(577.51,189.1) scale(0.83,1)" font-family="'Liberation Sans', 'DejaVu Sans', sans-serif" font-size="9.6" fill="#1a1a1a" stroke="#1a1a1a" stroke-width="0.18" text-anchor="middle" letter-spacing="-0.4">144</text>
<text transform="translate(598.12,189.1) scale(0.83,1)" font-family="'Liberation Sans', 'DejaVu Sans', sans-serif" font-size="9.6" fill="#1a1a1a" stroke="#1a1a1a" stroke-width="0.18" text-anchor="middle" letter-spacing="-0.4">150</text>
<text transform="translate(618.73,189.1) scale(0.83,1)" font-family="'Liberation Sans', 'DejaVu Sans', sans-serif" font-size="9.6" fill="#1a1a1a" stroke="#1a1a1a" stroke-width="0.18" text-anchor="middle" letter-spacing="-0.4">156</text>
<text transform="translate(639.35,189.1) scale(0.83,1)" font-family="'Liberation Sans', 'DejaVu Sans', sans-serif" font-size="9.6" fill="#1a1a1a" stroke="#1a1a1a" stroke-width="0.18" text-anchor="middle" letter-spacing="-0.4">162</text>
<text transform="translate(659.96,189.1) scale(0.83,1)" font-family="'Liberation Sans', 'DejaVu Sans', sans-serif" font-size="9.6" fill="#1a1a1a" stroke="#1a1a1a" stroke-width="0.18" text-anchor="middle" letter-spacing="-0.4">168</text>
<text transform="translate(680.58,189.1) scale(0.83,1)" font-family="'Liberation Sans', 'DejaVu Sans', sans-serif" font-size="9.6" fill="#1a1a1a" stroke="#1a1a1a" stroke-width="0.18" text-anchor="middle" letter-spacing="-0.4">174</text>
<text transform="translate(701.19,189.1) scale(0.83,1)" font-family="'Liberation Sans', 'DejaVu Sans', sans-serif" font-size="9.6" fill="#1a1a1a" stroke="#1a1a1a" stroke-width="0.18" text-anchor="middle" letter-spacing="-0.4">180</text>
<text transform="translate(721.81,189.1) scale(0.83,1)" font-family="'Liberation Sans', 'DejaVu Sans', sans-serif" font-size="9.6" fill="#1a1a1a" stroke="#1a1a1a" stroke-width="0.18" text-anchor="middle" letter-spacing="-0.4">186</text>
<text transform="translate(742.42,189.1) scale(0.83,1)" font-family="'Liberation Sans', 'DejaVu Sans', sans-serif" font-size="9.6" fill="#1a1a1a" stroke="#1a1a1a" stroke-width="0.18" text-anchor="middle" letter-spacing="-0.4">192</text>
<text transform="translate(763.04,189.1) scale(0.83,1)" font-family="'Liberation Sans', 'DejaVu Sans', sans-serif" font-size="9.6" fill="#1a1a1a" stroke="#1a1a1a" stroke-width="0.18" text-anchor="middle" letter-spacing="-0.4">198</text>
<text transform="translate(783.65,189.1) scale(0.83,1)" font-family="'Liberation Sans', 'DejaVu Sans', sans-serif" font-size="9.6" fill="#1a1a1a" stroke="#1a1a1a" stroke-width="0.18" text-anchor="middle" letter-spacing="-0.4">204</text>
<text transform="translate(804.27,189.1) scale(0.83,1)" font-family="'Liberation Sans', 'DejaVu Sans', sans-serif" font-size="9.6" fill="#1a1a1a" stroke="#1a1a1a" stroke-width="0.18" text-anchor="middle" letter-spacing="-0.4">210</text>
<text transform="translate(824.88,189.1) scale(0.83,1)" font-family="'Liberation Sans', 'DejaVu Sans', sans-serif" font-size="9.6" fill="#1a1a1a" stroke="#1a1a1a" stroke-width="0.18" text-anchor="middle" letter-spacing="-0.4">216</text>
<text transform="translate(845.5,189.1) scale(0.83,1)" font-family="'Liberation Sans', 'DejaVu Sans', sans-serif" font-size="9.6" fill="#1a1a1a" stroke="#1a1a1a" stroke-width="0.18" text-anchor="middle" letter-spacing="-0.4">222</text>
<text transform="translate(866.11,189.1) scale(0.83,1)" font-family="'Liberation Sans', 'DejaVu Sans', sans-serif" font-size="9.6" fill="#1a1a1a" stroke="#1a1a1a" stroke-width="0.18" text-anchor="middle" letter-spacing="-0.4">228</text>
<text transform="translate(886.73,189.1) scale(0.83,1)" font-family="'Liberation Sans', 'DejaVu Sans', sans-serif" font-size="9.6" fill="#1a1a1a" stroke="#1a1a1a" stroke-width="0.18" text-anchor="middle" letter-spacing="-0.4">234</text>
<text transform="translate(907.34,189.1) scale(0.83,1)" font-family="'Liberation Sans', 'DejaVu Sans', sans-serif" font-size="9.6" fill="#1a1a1a" stroke="#1a1a1a" stroke-width="0.18" text-anchor="middle" letter-spacing="-0.4">240</text>
<rect x="72.5" y="196.5" width="846.0" height="330.35" fill="#f5f5f5"/>
<path d="M82.95 526.85V220.97H103.56V369.54H124.18V526.85ZM227.25 526.85V518.11H247.87V526.85ZM268.48 526.85V448.2H289.1V491.89H309.71V526.85ZM701.39 526.85V369.54H722.01V474.41H742.62V518.11H763.24V325.84H783.85V308.36H804.47V448.2H825.08V465.67H845.7V526.85ZM886.93 526.85V360.8H907.54V526.85Z" fill="#9fcba0"/>
<path d="M83.25 196.5V526.85M103.86 196.5V526.85M124.48 196.5V526.85M145.09 196.5V526.85M165.71 196.5V526.85M186.32 196.5V526.85M206.94 196.5V526.85M227.55 196.5V526.85M248.17 196.5V526.85M268.78 196.5V526.85M289.4 196.5V526.85M310.01 196.5V526.85M330.63 196.5V526.85M351.24 196.5V526.85M371.86 196.5V526.85M392.47 196.5V526.85M413.09 196.5V526.85M433.7 196.5V526.85M454.32 196.5V526.85M474.93 196.5V526.85M495.55 196.5V526.85M516.16 196.5V526.85M536.78 196.5V526.85M557.39 196.5V526.85M578.01 196.5V526.85M598.62 196.5V526.85M619.23 196.5V526.85M639.85 196.5V526.85M660.46 196.5V526.85M681.08 196.5V526.85M701.69 196.5V526.85M722.31 196.5V526.85M742.92 196.5V526.85M763.54 196.5V526.85M784.15 196.5V526.85M804.77 196.5V526.85M825.38 196.5V526.85M846 196.5V526.85M866.61 196.5V526.85M887.23 196.5V526.85M907.84 196.5V526.85" stroke="#000" stroke-opacity="0.115" stroke-width="0.8" stroke-dasharray="2.6 1.1" fill="none"/>
<path d="M72.5 456.93H918.5M72.5 387.02H918.5M72.5 317.1H918.5M72.5 247.19H918.5" stroke="#000" stroke-opacity="0.115" stroke-width="0.8" stroke-dasharray="2.6 1.1" fill="none"/>
<rect x="72.5" y="196.5" width="846.0" height="330.35" fill="none" stroke="#2b2b2b" stroke-width="1.1"/>
<path d="M83.5 526.85v4.9M104.5 526.85v4.9M124.5 526.85v4.9M145.5 526.85v4.9M165.5 526.85v4.9M186.5 526.85v4.9M207.5 526.85v4.9M227.5 526.85v4.9M248.5 526.85v4.9M268.5 526.85v4.9M289.5 526.85v4.9M310.5 526.85v4.9M330.5 526.85v4.9M351.5 526.85v4.9M372.5 526.85v4.9M392.5 526.85v4.9M413.5 526.85v4.9M433.5 526.85v4.9M454.5 526.85v4.9M475.5 526.85v4.9M495.5 526.85v4.9M516.5 526.85v4.9M536.5 526.85v4.9M557.5 526.85v4.9M578.5 526.85v4.9M598.5 526.85v4.9M619.5 526.85v4.9M639.5 526.85v4.9M660.5 526.85v4.9M681.5 526.85v4.9M701.5 526.85v4.9M722.5 526.85v4.9M743.5 526.85v4.9M763.5 526.85v4.9M784.5 526.85v4.9M804.5 526.85v4.9M825.5 526.85v4.9M846.5 526.85v4.9M866.5 526.85v4.9M887.5 526.85v4.9M907.5 526.85v4.9" stroke="#2b2b2b" stroke-width="1.1" fill="none"/>
<path d="M72.5 526.85h-4.9" stroke="#2b2b2b" stroke-width="1.1" fill="none"/>
<text x="62" y="531.25" font-family="'Liberation Sans', 'DejaVu Sans', sans-serif" font-size="12.5" textLength="17.2" lengthAdjust="spacingAndGlyphs" fill="#1a1a1a" text-anchor="end" stroke="#1a1a1a" stroke-width="0.18">0.0</text>
<path d="M72.5 456.93h-4.9" stroke="#2b2b2b" stroke-width="1.1" fill="none"/>
<text x="62" y="461.33" font-family="'Liberation Sans', 'DejaVu Sans', sans-serif" font-size="12.5" textLength="17.2" lengthAdjust="spacingAndGlyphs" fill="#1a1a1a" text-anchor="end" stroke="#1a1a1a" stroke-width="0.18">0.5</text>
<path d="M72.5 387.02h-4.9" stroke="#2b2b2b" stroke-width="1.1" fill="none"/>
<text x="62" y="391.42" font-family="'Liberation Sans', 'DejaVu Sans', sans-serif" font-size="12.5" textLength="17.2" lengthAdjust="spacingAndGlyphs" fill="#1a1a1a" text-anchor="end" stroke="#1a1a1a" stroke-width="0.18">1.0</text>
<path d="M72.5 317.1h-4.9" stroke="#2b2b2b" stroke-width="1.1" fill="none"/>
<text x="62" y="321.5" font-family="'Liberation Sans', 'DejaVu Sans', sans-serif" font-size="12.5" textLength="17.2" lengthAdjust="spacingAndGlyphs" fill="#1a1a1a" text-anchor="end" stroke="#1a1a1a" stroke-width="0.18">1.5</text>
<path d="M72.5 247.19h-4.9" stroke="#2b2b2b" stroke-width="1.1" fill="none"/>
<text x="62" y="251.59" font-family="'Liberation Sans', 'DejaVu Sans', sans-serif" font-size="12.5" textLength="17.2" lengthAdjust="spacingAndGlyphs" fill="#1a1a1a" text-anchor="end" stroke="#1a1a1a" stroke-width="0.18">2.0</text>
<text transform="translate(34.0,362.2) rotate(-90)" font-family="'Liberation Sans', 'DejaVu Sans', sans-serif" font-size="12.5" fill="#1a1a1a" stroke="#1a1a1a" stroke-width="0.18" text-anchor="middle" textLength="108.6" lengthAdjust="spacingAndGlyphs">6-Hour QPF (mm)</text>
<text transform="translate(84.15,536.4) rotate(-90) scale(0.86,1)" font-family="'Liberation Sans', 'DejaVu Sans', sans-serif" font-size="9.6" fill="#1a1a1a" stroke="#1a1a1a" stroke-width="0.18" text-anchor="end">11/27 18z</text>
<text transform="translate(104.76,536.4) rotate(-90) scale(0.86,1)" font-family="'Liberation Sans', 'DejaVu Sans', sans-serif" font-size="9.6" fill="#1a1a1a" stroke="#1a1a1a" stroke-width="0.18" text-anchor="end">11/28 00z</text>
<text transform="translate(125.38,536.4) rotate(-90) scale(0.86,1)" font-family="'Liberation Sans', 'DejaVu Sans', sans-serif" font-size="9.6" fill="#1a1a1a" stroke="#1a1a1a" stroke-width="0.18" text-anchor="end">11/28 06z</text>
<text transform="translate(145.99,536.4) rotate(-90) scale(0.86,1)" font-family="'Liberation Sans', 'DejaVu Sans', sans-serif" font-size="9.6" fill="#1a1a1a" stroke="#1a1a1a" stroke-width="0.18" text-anchor="end">11/28 12z</text>
<text transform="translate(166.61,536.4) rotate(-90) scale(0.86,1)" font-family="'Liberation Sans', 'DejaVu Sans', sans-serif" font-size="9.6" fill="#1a1a1a" stroke="#1a1a1a" stroke-width="0.18" text-anchor="end">11/28 18z</text>
<text transform="translate(187.22,536.4) rotate(-90) scale(0.86,1)" font-family="'Liberation Sans', 'DejaVu Sans', sans-serif" font-size="9.6" fill="#1a1a1a" stroke="#1a1a1a" stroke-width="0.18" text-anchor="end">11/29 00z</text>
<text transform="translate(207.84,536.4) rotate(-90) scale(0.86,1)" font-family="'Liberation Sans', 'DejaVu Sans', sans-serif" font-size="9.6" fill="#1a1a1a" stroke="#1a1a1a" stroke-width="0.18" text-anchor="end">11/29 06z</text>
<text transform="translate(228.45,536.4) rotate(-90) scale(0.86,1)" font-family="'Liberation Sans', 'DejaVu Sans', sans-serif" font-size="9.6" fill="#1a1a1a" stroke="#1a1a1a" stroke-width="0.18" text-anchor="end">11/29 12z</text>
<text transform="translate(249.07,536.4) rotate(-90) scale(0.86,1)" font-family="'Liberation Sans', 'DejaVu Sans', sans-serif" font-size="9.6" fill="#1a1a1a" stroke="#1a1a1a" stroke-width="0.18" text-anchor="end">11/29 18z</text>
<text transform="translate(269.68,536.4) rotate(-90) scale(0.86,1)" font-family="'Liberation Sans', 'DejaVu Sans', sans-serif" font-size="9.6" fill="#1a1a1a" stroke="#1a1a1a" stroke-width="0.18" text-anchor="end">11/30 00z</text>
<text transform="translate(290.3,536.4) rotate(-90) scale(0.86,1)" font-family="'Liberation Sans', 'DejaVu Sans', sans-serif" font-size="9.6" fill="#1a1a1a" stroke="#1a1a1a" stroke-width="0.18" text-anchor="end">11/30 06z</text>
<text transform="translate(310.91,536.4) rotate(-90) scale(0.86,1)" font-family="'Liberation Sans', 'DejaVu Sans', sans-serif" font-size="9.6" fill="#1a1a1a" stroke="#1a1a1a" stroke-width="0.18" text-anchor="end">11/30 12z</text>
<text transform="translate(331.53,536.4) rotate(-90) scale(0.86,1)" font-family="'Liberation Sans', 'DejaVu Sans', sans-serif" font-size="9.6" fill="#1a1a1a" stroke="#1a1a1a" stroke-width="0.18" text-anchor="end">11/30 18z</text>
<text transform="translate(352.14,536.4) rotate(-90) scale(0.86,1)" font-family="'Liberation Sans', 'DejaVu Sans', sans-serif" font-size="9.6" fill="#1a1a1a" stroke="#1a1a1a" stroke-width="0.18" text-anchor="end">12/01 00z</text>
<text transform="translate(372.76,536.4) rotate(-90) scale(0.86,1)" font-family="'Liberation Sans', 'DejaVu Sans', sans-serif" font-size="9.6" fill="#1a1a1a" stroke="#1a1a1a" stroke-width="0.18" text-anchor="end">12/01 06z</text>
<text transform="translate(393.37,536.4) rotate(-90) scale(0.86,1)" font-family="'Liberation Sans', 'DejaVu Sans', sans-serif" font-size="9.6" fill="#1a1a1a" stroke="#1a1a1a" stroke-width="0.18" text-anchor="end">12/01 12z</text>
<text transform="translate(413.99,536.4) rotate(-90) scale(0.86,1)" font-family="'Liberation Sans', 'DejaVu Sans', sans-serif" font-size="9.6" fill="#1a1a1a" stroke="#1a1a1a" stroke-width="0.18" text-anchor="end">12/01 18z</text>
<text transform="translate(434.6,536.4) rotate(-90) scale(0.86,1)" font-family="'Liberation Sans', 'DejaVu Sans', sans-serif" font-size="9.6" fill="#1a1a1a" stroke="#1a1a1a" stroke-width="0.18" text-anchor="end">12/02 00z</text>
<text transform="translate(455.22,536.4) rotate(-90) scale(0.86,1)" font-family="'Liberation Sans', 'DejaVu Sans', sans-serif" font-size="9.6" fill="#1a1a1a" stroke="#1a1a1a" stroke-width="0.18" text-anchor="end">12/02 06z</text>
<text transform="translate(475.83,536.4) rotate(-90) scale(0.86,1)" font-family="'Liberation Sans', 'DejaVu Sans', sans-serif" font-size="9.6" fill="#1a1a1a" stroke="#1a1a1a" stroke-width="0.18" text-anchor="end">12/02 12z</text>
<text transform="translate(496.45,536.4) rotate(-90) scale(0.86,1)" font-family="'Liberation Sans', 'DejaVu Sans', sans-serif" font-size="9.6" fill="#1a1a1a" stroke="#1a1a1a" stroke-width="0.18" text-anchor="end">12/02 18z</text>
<text transform="translate(517.06,536.4) rotate(-90) scale(0.86,1)" font-family="'Liberation Sans', 'DejaVu Sans', sans-serif" font-size="9.6" fill="#1a1a1a" stroke="#1a1a1a" stroke-width="0.18" text-anchor="end">12/03 00z</text>
<text transform="translate(537.68,536.4) rotate(-90) scale(0.86,1)" font-family="'Liberation Sans', 'DejaVu Sans', sans-serif" font-size="9.6" fill="#1a1a1a" stroke="#1a1a1a" stroke-width="0.18" text-anchor="end">12/03 06z</text>
<text transform="translate(558.29,536.4) rotate(-90) scale(0.86,1)" font-family="'Liberation Sans', 'DejaVu Sans', sans-serif" font-size="9.6" fill="#1a1a1a" stroke="#1a1a1a" stroke-width="0.18" text-anchor="end">12/03 12z</text>
<text transform="translate(578.91,536.4) rotate(-90) scale(0.86,1)" font-family="'Liberation Sans', 'DejaVu Sans', sans-serif" font-size="9.6" fill="#1a1a1a" stroke="#1a1a1a" stroke-width="0.18" text-anchor="end">12/03 18z</text>
<text transform="translate(599.52,536.4) rotate(-90) scale(0.86,1)" font-family="'Liberation Sans', 'DejaVu Sans', sans-serif" font-size="9.6" fill="#1a1a1a" stroke="#1a1a1a" stroke-width="0.18" text-anchor="end">12/04 00z</text>
<text transform="translate(620.13,536.4) rotate(-90) scale(0.86,1)" font-family="'Liberation Sans', 'DejaVu Sans', sans-serif" font-size="9.6" fill="#1a1a1a" stroke="#1a1a1a" stroke-width="0.18" text-anchor="end">12/04 06z</text>
<text transform="translate(640.75,536.4) rotate(-90) scale(0.86,1)" font-family="'Liberation Sans', 'DejaVu Sans', sans-serif" font-size="9.6" fill="#1a1a1a" stroke="#1a1a1a" stroke-width="0.18" text-anchor="end">12/04 12z</text>
<text transform="translate(661.36,536.4) rotate(-90) scale(0.86,1)" font-family="'Liberation Sans', 'DejaVu Sans', sans-serif" font-size="9.6" fill="#1a1a1a" stroke="#1a1a1a" stroke-width="0.18" text-anchor="end">12/04 18z</text>
<text transform="translate(681.98,536.4) rotate(-90) scale(0.86,1)" font-family="'Liberation Sans', 'DejaVu Sans', sans-serif" font-size="9.6" fill="#1a1a1a" stroke="#1a1a1a" stroke-width="0.18" text-anchor="end">12/05 00z</text>
<text transform="translate(702.59,536.4) rotate(-90) scale(0.86,1)" font-family="'Liberation Sans', 'DejaVu Sans', sans-serif" font-size="9.6" fill="#1a1a1a" stroke="#1a1a1a" stroke-width="0.18" text-anchor="end">12/05 06z</text>
<text transform="translate(723.21,536.4) rotate(-90) scale(0.86,1)" font-family="'Liberation Sans', 'DejaVu Sans', sans-serif" font-size="9.6" fill="#1a1a1a" stroke="#1a1a1a" stroke-width="0.18" text-anchor="end">12/05 12z</text>
<text transform="translate(743.82,536.4) rotate(-90) scale(0.86,1)" font-family="'Liberation Sans', 'DejaVu Sans', sans-serif" font-size="9.6" fill="#1a1a1a" stroke="#1a1a1a" stroke-width="0.18" text-anchor="end">12/05 18z</text>
<text transform="translate(764.44,536.4) rotate(-90) scale(0.86,1)" font-family="'Liberation Sans', 'DejaVu Sans', sans-serif" font-size="9.6" fill="#1a1a1a" stroke="#1a1a1a" stroke-width="0.18" text-anchor="end">12/06 00z</text>
<text transform="translate(785.05,536.4) rotate(-90) scale(0.86,1)" font-family="'Liberation Sans', 'DejaVu Sans', sans-serif" font-size="9.6" fill="#1a1a1a" stroke="#1a1a1a" stroke-width="0.18" text-anchor="end">12/06 06z</text>
<text transform="translate(805.67,536.4) rotate(-90) scale(0.86,1)" font-family="'Liberation Sans', 'DejaVu Sans', sans-serif" font-size="9.6" fill="#1a1a1a" stroke="#1a1a1a" stroke-width="0.18" text-anchor="end">12/06 12z</text>
<text transform="translate(826.28,536.4) rotate(-90) scale(0.86,1)" font-family="'Liberation Sans', 'DejaVu Sans', sans-serif" font-size="9.6" fill="#1a1a1a" stroke="#1a1a1a" stroke-width="0.18" text-anchor="end">12/06 18z</text>
<text transform="translate(846.9,536.4) rotate(-90) scale(0.86,1)" font-family="'Liberation Sans', 'DejaVu Sans', sans-serif" font-size="9.6" fill="#1a1a1a" stroke="#1a1a1a" stroke-width="0.18" text-anchor="end">12/07 00z</text>
<text transform="translate(867.51,536.4) rotate(-90) scale(0.86,1)" font-family="'Liberation Sans', 'DejaVu Sans', sans-serif" font-size="9.6" fill="#1a1a1a" stroke="#1a1a1a" stroke-width="0.18" text-anchor="end">12/07 06z</text>
<text transform="translate(888.13,536.4) rotate(-90) scale(0.86,1)" font-family="'Liberation Sans', 'DejaVu Sans', sans-serif" font-size="9.6" fill="#1a1a1a" stroke="#1a1a1a" stroke-width="0.18" text-anchor="end">12/07 12z</text>
<text transform="translate(908.74,536.4) rotate(-90) scale(0.86,1)" font-family="'Liberation Sans', 'DejaVu Sans', sans-serif" font-size="9.6" fill="#1a1a1a" stroke="#1a1a1a" stroke-width="0.18" text-anchor="end">12/07 18z</text>
<rect x="82.95" y="584.2" width="21.61" height="59.5" fill="#6e6e6e"/>
<rect x="103.56" y="584.2" width="21.61" height="59.5" fill="#b2f8a6"/>
<rect x="124.18" y="584.2" width="21.61" height="59.5" fill="#b2f8a6"/>
<rect x="144.79" y="584.2" width="21.61" height="59.5" fill="#b2f8a6"/>
<rect x="165.41" y="584.2" width="21.61" height="59.5" fill="#b2f8a6"/>
<rect x="186.02" y="584.2" width="21.61" height="59.5" fill="#b2f8a6"/>
<rect x="206.64" y="584.2" width="21.61" height="59.5" fill="#b2f8a6"/>
<rect x="227.25" y="584.2" width="21.61" height="59.5" fill="#b2f8a6"/>
<rect x="247.87" y="584.2" width="21.61" height="59.5" fill="#b2f8a6"/>
<rect x="268.48" y="584.2" width="21.61" height="59.5" fill="#96f18c"/>
<rect x="289.1" y="584.2" width="21.61" height="59.5" fill="#96f18c"/>
<rect x="309.71" y="584.2" width="21.61" height="59.5" fill="#96f18c"/>
<rect x="330.33" y="584.2" width="21.61" height="59.5" fill="#96f18c"/>
<rect x="350.94" y="584.2" width="21.61" height="59.5" fill="#96f18c"/>
<rect x="371.56" y="584.2" width="21.61" height="59.5" fill="#96f18c"/>
<rect x="392.17" y="584.2" width="21.61" height="59.5" fill="#96f18c"/>
<rect x="412.79" y="584.2" width="21.61" height="59.5" fill="#96f18c"/>
<rect x="433.4" y="584.2" width="21.61" height="59.5" fill="#96f18c"/>
<rect x="454.02" y="584.2" width="21.61" height="59.5" fill="#96f18c"/>
<rect x="474.63" y="584.2" width="21.61" height="59.5" fill="#96f18c"/>
<rect x="495.25" y="584.2" width="21.61" height="59.5" fill="#96f18c"/>
<rect x="515.86" y="584.2" width="21.61" height="59.5" fill="#96f18c"/>
<rect x="536.48" y="584.2" width="21.61" height="59.5" fill="#96f18c"/>
<rect x="557.09" y="584.2" width="21.61" height="59.5" fill="#96f18c"/>
<rect x="577.71" y="584.2" width="21.61" height="59.5" fill="#96f18c"/>
<rect x="598.32" y="584.2" width="21.61" height="59.5" fill="#96f18c"/>
<rect x="618.93" y="584.2" width="21.61" height="59.5" fill="#96f18c"/>
<rect x="639.55" y="584.2" width="21.61" height="59.5" fill="#96f18c"/>
<rect x="660.16" y="584.2" width="21.61" height="59.5" fill="#96f18c"/>
<rect x="680.78" y="584.2" width="21.61" height="59.5" fill="#96f18c"/>
<rect x="701.39" y="584.2" width="21.61" height="59.5" fill="#7af272"/>
<rect x="722.01" y="584.2" width="21.61" height="59.5" fill="#7af272"/>
<rect x="742.62" y="584.2" width="21.61" height="59.5" fill="#7af272"/>
<rect x="763.24" y="584.2" width="21.61" height="59.5" fill="#55e84e"/>
<rect x="783.85" y="584.2" width="21.61" height="59.5" fill="#22b522"/>
<rect x="804.47" y="584.2" width="21.61" height="59.5" fill="#22b522"/>
<rect x="825.08" y="584.2" width="21.61" height="59.5" fill="#22b522"/>
<rect x="845.7" y="584.2" width="21.61" height="59.5" fill="#22b522"/>
<rect x="866.31" y="584.2" width="21.61" height="59.5" fill="#22b522"/>
<rect x="886.93" y="584.2" width="20.61" height="59.5" fill="#0f9f0f"/>
<text transform="translate(96.16,614.65) rotate(-90) scale(0.87,1)" font-family="'Liberation Sans', 'DejaVu Sans', sans-serif" font-size="12.5" fill="#dcdcdc" stroke="#dcdcdc" stroke-width="0.15" text-anchor="middle">2</text>
<text transform="translate(116.77,614.65) rotate(-90) scale(0.87,1)" font-family="'Liberation Sans', 'DejaVu Sans', sans-serif" font-size="12.5" fill="#111" stroke="#111" stroke-width="0.15" text-anchor="middle">3</text>
<text transform="translate(137.39,614.65) rotate(-90) scale(0.87,1)" font-family="'Liberation Sans', 'DejaVu Sans', sans-serif" font-size="12.5" fill="#111" stroke="#111" stroke-width="0.15" text-anchor="middle">3</text>
<text transform="translate(158,614.65) rotate(-90) scale(0.87,1)" font-family="'Liberation Sans', 'DejaVu Sans', sans-serif" font-size="12.5" fill="#111" stroke="#111" stroke-width="0.15" text-anchor="middle">3</text>
<text transform="translate(178.62,614.65) rotate(-90) scale(0.87,1)" font-family="'Liberation Sans', 'DejaVu Sans', sans-serif" font-size="12.5" fill="#111" stroke="#111" stroke-width="0.15" text-anchor="middle">3</text>
<text transform="translate(199.23,614.65) rotate(-90) scale(0.87,1)" font-family="'Liberation Sans', 'DejaVu Sans', sans-serif" font-size="12.5" fill="#111" stroke="#111" stroke-width="0.15" text-anchor="middle">3</text>
<text transform="translate(219.85,614.65) rotate(-90) scale(0.87,1)" font-family="'Liberation Sans', 'DejaVu Sans', sans-serif" font-size="12.5" fill="#111" stroke="#111" stroke-width="0.15" text-anchor="middle">3</text>
<text transform="translate(240.46,614.65) rotate(-90) scale(0.87,1)" font-family="'Liberation Sans', 'DejaVu Sans', sans-serif" font-size="12.5" fill="#111" stroke="#111" stroke-width="0.15" text-anchor="middle">3</text>
<text transform="translate(261.08,614.65) rotate(-90) scale(0.87,1)" font-family="'Liberation Sans', 'DejaVu Sans', sans-serif" font-size="12.5" fill="#111" stroke="#111" stroke-width="0.15" text-anchor="middle">3</text>
<text transform="translate(281.69,614.65) rotate(-90) scale(0.87,1)" font-family="'Liberation Sans', 'DejaVu Sans', sans-serif" font-size="12.5" fill="#111" stroke="#111" stroke-width="0.15" text-anchor="middle">4</text>
<text transform="translate(302.31,614.65) rotate(-90) scale(0.87,1)" font-family="'Liberation Sans', 'DejaVu Sans', sans-serif" font-size="12.5" fill="#111" stroke="#111" stroke-width="0.15" text-anchor="middle">4</text>
<text transform="translate(322.92,614.65) rotate(-90) scale(0.87,1)" font-family="'Liberation Sans', 'DejaVu Sans', sans-serif" font-size="12.5" fill="#111" stroke="#111" stroke-width="0.15" text-anchor="middle">4</text>
<text transform="translate(343.53,614.65) rotate(-90) scale(0.87,1)" font-family="'Liberation Sans', 'DejaVu Sans', sans-serif" font-size="12.5" fill="#111" stroke="#111" stroke-width="0.15" text-anchor="middle">4</text>
<text transform="translate(364.15,614.65) rotate(-90) scale(0.87,1)" font-family="'Liberation Sans', 'DejaVu Sans', sans-serif" font-size="12.5" fill="#111" stroke="#111" stroke-width="0.15" text-anchor="middle">4</text>
<text transform="translate(384.76,614.65) rotate(-90) scale(0.87,1)" font-family="'Liberation Sans', 'DejaVu Sans', sans-serif" font-size="12.5" fill="#111" stroke="#111" stroke-width="0.15" text-anchor="middle">4</text>
<text transform="translate(405.38,614.65) rotate(-90) scale(0.87,1)" font-family="'Liberation Sans', 'DejaVu Sans', sans-serif" font-size="12.5" fill="#111" stroke="#111" stroke-width="0.15" text-anchor="middle">4</text>
<text transform="translate(425.99,614.65) rotate(-90) scale(0.87,1)" font-family="'Liberation Sans', 'DejaVu Sans', sans-serif" font-size="12.5" fill="#111" stroke="#111" stroke-width="0.15" text-anchor="middle">4</text>
<text transform="translate(446.61,614.65) rotate(-90) scale(0.87,1)" font-family="'Liberation Sans', 'DejaVu Sans', sans-serif" font-size="12.5" fill="#111" stroke="#111" stroke-width="0.15" text-anchor="middle">4</text>
<text transform="translate(467.22,614.65) rotate(-90) scale(0.87,1)" font-family="'Liberation Sans', 'DejaVu Sans', sans-serif" font-size="12.5" fill="#111" stroke="#111" stroke-width="0.15" text-anchor="middle">4</text>
<text transform="translate(487.84,614.65) rotate(-90) scale(0.87,1)" font-family="'Liberation Sans', 'DejaVu Sans', sans-serif" font-size="12.5" fill="#111" stroke="#111" stroke-width="0.15" text-anchor="middle">4</text>
<text transform="translate(508.45,614.65) rotate(-90) scale(0.87,1)" font-family="'Liberation Sans', 'DejaVu Sans', sans-serif" font-size="12.5" fill="#111" stroke="#111" stroke-width="0.15" text-anchor="middle">4</text>
<text transform="translate(529.07,614.65) rotate(-90) scale(0.87,1)" font-family="'Liberation Sans', 'DejaVu Sans', sans-serif" font-size="12.5" fill="#111" stroke="#111" stroke-width="0.15" text-anchor="middle">4</text>
<text transform="translate(549.68,614.65) rotate(-90) scale(0.87,1)" font-family="'Liberation Sans', 'DejaVu Sans', sans-serif" font-size="12.5" fill="#111" stroke="#111" stroke-width="0.15" text-anchor="middle">4</text>
<text transform="translate(570.3,614.65) rotate(-90) scale(0.87,1)" font-family="'Liberation Sans', 'DejaVu Sans', sans-serif" font-size="12.5" fill="#111" stroke="#111" stroke-width="0.15" text-anchor="middle">4</text>
<text transform="translate(590.91,614.65) rotate(-90) scale(0.87,1)" font-family="'Liberation Sans', 'DejaVu Sans', sans-serif" font-size="12.5" fill="#111" stroke="#111" stroke-width="0.15" text-anchor="middle">4</text>
<text transform="translate(611.53,614.65) rotate(-90) scale(0.87,1)" font-family="'Liberation Sans', 'DejaVu Sans', sans-serif" font-size="12.5" fill="#111" stroke="#111" stroke-width="0.15" text-anchor="middle">4</text>
<text transform="translate(632.14,614.65) rotate(-90) scale(0.87,1)" font-family="'Liberation Sans', 'DejaVu Sans', sans-serif" font-size="12.5" fill="#111" stroke="#111" stroke-width="0.15" text-anchor="middle">4</text>
<text transform="translate(652.76,614.65) rotate(-90) scale(0.87,1)" font-family="'Liberation Sans', 'DejaVu Sans', sans-serif" font-size="12.5" fill="#111" stroke="#111" stroke-width="0.15" text-anchor="middle">4</text>
<text transform="translate(673.37,614.65) rotate(-90) scale(0.87,1)" font-family="'Liberation Sans', 'DejaVu Sans', sans-serif" font-size="12.5" fill="#111" stroke="#111" stroke-width="0.15" text-anchor="middle">4</text>
<text transform="translate(693.99,614.65) rotate(-90) scale(0.87,1)" font-family="'Liberation Sans', 'DejaVu Sans', sans-serif" font-size="12.5" fill="#111" stroke="#111" stroke-width="0.15" text-anchor="middle">4</text>
<text transform="translate(714.6,614.65) rotate(-90) scale(0.87,1)" font-family="'Liberation Sans', 'DejaVu Sans', sans-serif" font-size="12.5" fill="#111" stroke="#111" stroke-width="0.15" text-anchor="middle">5</text>
<text transform="translate(735.22,614.65) rotate(-90) scale(0.87,1)" font-family="'Liberation Sans', 'DejaVu Sans', sans-serif" font-size="12.5" fill="#111" stroke="#111" stroke-width="0.15" text-anchor="middle">6</text>
<text transform="translate(755.83,614.65) rotate(-90) scale(0.87,1)" font-family="'Liberation Sans', 'DejaVu Sans', sans-serif" font-size="12.5" fill="#111" stroke="#111" stroke-width="0.15" text-anchor="middle">6</text>
<text transform="translate(776.45,614.65) rotate(-90) scale(0.87,1)" font-family="'Liberation Sans', 'DejaVu Sans', sans-serif" font-size="12.5" fill="#111" stroke="#111" stroke-width="0.15" text-anchor="middle">7</text>
<text transform="translate(797.06,614.65) rotate(-90) scale(0.87,1)" font-family="'Liberation Sans', 'DejaVu Sans', sans-serif" font-size="12.5" fill="#111" stroke="#111" stroke-width="0.15" text-anchor="middle">9</text>
<text transform="translate(817.68,614.65) rotate(-90) scale(0.87,1)" font-family="'Liberation Sans', 'DejaVu Sans', sans-serif" font-size="12.5" fill="#111" stroke="#111" stroke-width="0.15" text-anchor="middle">9</text>
<text transform="translate(838.29,615.95) rotate(-90) scale(0.87,1)" font-family="'Liberation Sans', 'DejaVu Sans', sans-serif" font-size="12.5" fill="#111" stroke="#111" stroke-width="0.15" text-anchor="middle">10</text>
<text transform="translate(858.9,615.95) rotate(-90) scale(0.87,1)" font-family="'Liberation Sans', 'DejaVu Sans', sans-serif" font-size="12.5" fill="#111" stroke="#111" stroke-width="0.15" text-anchor="middle">10</text>
<text transform="translate(879.52,615.95) rotate(-90) scale(0.87,1)" font-family="'Liberation Sans', 'DejaVu Sans', sans-serif" font-size="12.5" fill="#111" stroke="#111" stroke-width="0.15" text-anchor="middle">10</text>
<text transform="translate(900.13,615.95) rotate(-90) scale(0.87,1)" font-family="'Liberation Sans', 'DejaVu Sans', sans-serif" font-size="12.5" fill="#e8e8e8" stroke="#e8e8e8" stroke-width="0.15" text-anchor="middle">11</text>
<rect x="72.5" y="584.2" width="846.0" height="59.5" fill="none" stroke="#2b2b2b" stroke-width="1.1"/>
<path d="M83.5 643.7v4.9M104.5 643.7v4.9M124.5 643.7v4.9M145.5 643.7v4.9M165.5 643.7v4.9M186.5 643.7v4.9M207.5 643.7v4.9M227.5 643.7v4.9M248.5 643.7v4.9M268.5 643.7v4.9M289.5 643.7v4.9M310.5 643.7v4.9M330.5 643.7v4.9M351.5 643.7v4.9M372.5 643.7v4.9M392.5 643.7v4.9M413.5 643.7v4.9M433.5 643.7v4.9M454.5 643.7v4.9M475.5 643.7v4.9M495.5 643.7v4.9M516.5 643.7v4.9M536.5 643.7v4.9M557.5 643.7v4.9M578.5 643.7v4.9M598.5 643.7v4.9M619.5 643.7v4.9M639.5 643.7v4.9M660.5 643.7v4.9M681.5 643.7v4.9M701.5 643.7v4.9M722.5 643.7v4.9M743.5 643.7v4.9M763.5 643.7v4.9M784.5 643.7v4.9M804.5 643.7v4.9M825.5 643.7v4.9M846.5 643.7v4.9M866.5 643.7v4.9M887.5 643.7v4.9M907.5 643.7v4.9" stroke="#2b2b2b" stroke-width="1.1" fill="none"/>
<path d="M72.5 613.95h-4.9" stroke="#2b2b2b" stroke-width="1.1" fill="none"/>
<text transform="translate(82.25,659.3) scale(0.83,1)" font-family="'Liberation Sans', 'DejaVu Sans', sans-serif" font-size="9.6" fill="#1a1a1a" stroke="#1a1a1a" stroke-width="0.18" text-anchor="middle" letter-spacing="-0.4">Thu</text>
<text transform="translate(102.86,659.3) scale(0.83,1)" font-family="'Liberation Sans', 'DejaVu Sans', sans-serif" font-size="9.6" fill="#1a1a1a" stroke="#1a1a1a" stroke-width="0.18" text-anchor="middle" letter-spacing="-0.4">Fri</text>
<text transform="translate(123.48,659.3) scale(0.83,1)" font-family="'Liberation Sans', 'DejaVu Sans', sans-serif" font-size="9.6" fill="#1a1a1a" stroke="#1a1a1a" stroke-width="0.18" text-anchor="middle" letter-spacing="-0.4">Fri</text>
<text transform="translate(144.09,659.3) scale(0.83,1)" font-family="'Liberation Sans', 'DejaVu Sans', sans-serif" font-size="9.6" fill="#1a1a1a" stroke="#1a1a1a" stroke-width="0.18" text-anchor="middle" letter-spacing="-0.4">Fri</text>
<text transform="translate(164.71,659.3) scale(0.83,1)" font-family="'Liberation Sans', 'DejaVu Sans', sans-serif" font-size="9.6" fill="#1a1a1a" stroke="#1a1a1a" stroke-width="0.18" text-anchor="middle" letter-spacing="-0.4">Fri</text>
<text transform="translate(185.32,659.3) scale(0.83,1)" font-family="'Liberation Sans', 'DejaVu Sans', sans-serif" font-size="9.6" fill="#1a1a1a" stroke="#1a1a1a" stroke-width="0.18" text-anchor="middle" letter-spacing="-0.4">Sat</text>
<text transform="translate(205.94,659.3) scale(0.83,1)" font-family="'Liberation Sans', 'DejaVu Sans', sans-serif" font-size="9.6" fill="#1a1a1a" stroke="#1a1a1a" stroke-width="0.18" text-anchor="middle" letter-spacing="-0.4">Sat</text>
<text transform="translate(226.55,659.3) scale(0.83,1)" font-family="'Liberation Sans', 'DejaVu Sans', sans-serif" font-size="9.6" fill="#1a1a1a" stroke="#1a1a1a" stroke-width="0.18" text-anchor="middle" letter-spacing="-0.4">Sat</text>
<text transform="translate(247.17,659.3) scale(0.83,1)" font-family="'Liberation Sans', 'DejaVu Sans', sans-serif" font-size="9.6" fill="#1a1a1a" stroke="#1a1a1a" stroke-width="0.18" text-anchor="middle" letter-spacing="-0.4">Sat</text>
<text transform="translate(267.78,659.3) scale(0.83,1)" font-family="'Liberation Sans', 'DejaVu Sans', sans-serif" font-size="9.6" fill="#1a1a1a" stroke="#1a1a1a" stroke-width="0.18" text-anchor="middle" letter-spacing="-0.4">Sun</text>
<text transform="translate(288.4,659.3) scale(0.83,1)" font-family="'Liberation Sans', 'DejaVu Sans', sans-serif" font-size="9.6" fill="#1a1a1a" stroke="#1a1a1a" stroke-width="0.18" text-anchor="middle" letter-spacing="-0.4">Sun</text>
<text transform="translate(309.01,659.3) scale(0.83,1)" font-family="'Liberation Sans', 'DejaVu Sans', sans-serif" font-size="9.6" fill="#1a1a1a" stroke="#1a1a1a" stroke-width="0.18" text-anchor="middle" letter-spacing="-0.4">Sun</text>
<text transform="translate(329.63,659.3) scale(0.83,1)" font-family="'Liberation Sans', 'DejaVu Sans', sans-serif" font-size="9.6" fill="#1a1a1a" stroke="#1a1a1a" stroke-width="0.18" text-anchor="middle" letter-spacing="-0.4">Sun</text>
<text transform="translate(350.24,659.3) scale(0.83,1)" font-family="'Liberation Sans', 'DejaVu Sans', sans-serif" font-size="9.6" fill="#1a1a1a" stroke="#1a1a1a" stroke-width="0.18" text-anchor="middle" letter-spacing="-0.4">Mon</text>
<text transform="translate(370.86,659.3) scale(0.83,1)" font-family="'Liberation Sans', 'DejaVu Sans', sans-serif" font-size="9.6" fill="#1a1a1a" stroke="#1a1a1a" stroke-width="0.18" text-anchor="middle" letter-spacing="-0.4">Mon</text>
<text transform="translate(391.47,659.3) scale(0.83,1)" font-family="'Liberation Sans', 'DejaVu Sans', sans-serif" font-size="9.6" fill="#1a1a1a" stroke="#1a1a1a" stroke-width="0.18" text-anchor="middle" letter-spacing="-0.4">Mon</text>
<text transform="translate(412.09,659.3) scale(0.83,1)" font-family="'Liberation Sans', 'DejaVu Sans', sans-serif" font-size="9.6" fill="#1a1a1a" stroke="#1a1a1a" stroke-width="0.18" text-anchor="middle" letter-spacing="-0.4">Mon</text>
<text transform="translate(432.7,659.3) scale(0.83,1)" font-family="'Liberation Sans', 'DejaVu Sans', sans-serif" font-size="9.6" fill="#1a1a1a" stroke="#1a1a1a" stroke-width="0.18" text-anchor="middle" letter-spacing="-0.4">Tue</text>
<text transform="translate(453.32,659.3) scale(0.83,1)" font-family="'Liberation Sans', 'DejaVu Sans', sans-serif" font-size="9.6" fill="#1a1a1a" stroke="#1a1a1a" stroke-width="0.18" text-anchor="middle" letter-spacing="-0.4">Tue</text>
<text transform="translate(473.93,659.3) scale(0.83,1)" font-family="'Liberation Sans', 'DejaVu Sans', sans-serif" font-size="9.6" fill="#1a1a1a" stroke="#1a1a1a" stroke-width="0.18" text-anchor="middle" letter-spacing="-0.4">Tue</text>
<text transform="translate(494.55,659.3) scale(0.83,1)" font-family="'Liberation Sans', 'DejaVu Sans', sans-serif" font-size="9.6" fill="#1a1a1a" stroke="#1a1a1a" stroke-width="0.18" text-anchor="middle" letter-spacing="-0.4">Tue</text>
<text transform="translate(515.16,659.3) scale(0.83,1)" font-family="'Liberation Sans', 'DejaVu Sans', sans-serif" font-size="9.6" fill="#1a1a1a" stroke="#1a1a1a" stroke-width="0.18" text-anchor="middle" letter-spacing="-0.4">Wed</text>
<text transform="translate(535.78,659.3) scale(0.83,1)" font-family="'Liberation Sans', 'DejaVu Sans', sans-serif" font-size="9.6" fill="#1a1a1a" stroke="#1a1a1a" stroke-width="0.18" text-anchor="middle" letter-spacing="-0.4">Wed</text>
<text transform="translate(556.39,659.3) scale(0.83,1)" font-family="'Liberation Sans', 'DejaVu Sans', sans-serif" font-size="9.6" fill="#1a1a1a" stroke="#1a1a1a" stroke-width="0.18" text-anchor="middle" letter-spacing="-0.4">Wed</text>
<text transform="translate(577.01,659.3) scale(0.83,1)" font-family="'Liberation Sans', 'DejaVu Sans', sans-serif" font-size="9.6" fill="#1a1a1a" stroke="#1a1a1a" stroke-width="0.18" text-anchor="middle" letter-spacing="-0.4">Wed</text>
<text transform="translate(597.62,659.3) scale(0.83,1)" font-family="'Liberation Sans', 'DejaVu Sans', sans-serif" font-size="9.6" fill="#1a1a1a" stroke="#1a1a1a" stroke-width="0.18" text-anchor="middle" letter-spacing="-0.4">Thu</text>
<text transform="translate(618.23,659.3) scale(0.83,1)" font-family="'Liberation Sans', 'DejaVu Sans', sans-serif" font-size="9.6" fill="#1a1a1a" stroke="#1a1a1a" stroke-width="0.18" text-anchor="middle" letter-spacing="-0.4">Thu</text>
<text transform="translate(638.85,659.3) scale(0.83,1)" font-family="'Liberation Sans', 'DejaVu Sans', sans-serif" font-size="9.6" fill="#1a1a1a" stroke="#1a1a1a" stroke-width="0.18" text-anchor="middle" letter-spacing="-0.4">Thu</text>
<text transform="translate(659.46,659.3) scale(0.83,1)" font-family="'Liberation Sans', 'DejaVu Sans', sans-serif" font-size="9.6" fill="#1a1a1a" stroke="#1a1a1a" stroke-width="0.18" text-anchor="middle" letter-spacing="-0.4">Thu</text>
<text transform="translate(680.08,659.3) scale(0.83,1)" font-family="'Liberation Sans', 'DejaVu Sans', sans-serif" font-size="9.6" fill="#1a1a1a" stroke="#1a1a1a" stroke-width="0.18" text-anchor="middle" letter-spacing="-0.4">Fri</text>
<text transform="translate(700.69,659.3) scale(0.83,1)" font-family="'Liberation Sans', 'DejaVu Sans', sans-serif" font-size="9.6" fill="#1a1a1a" stroke="#1a1a1a" stroke-width="0.18" text-anchor="middle" letter-spacing="-0.4">Fri</text>
<text transform="translate(721.31,659.3) scale(0.83,1)" font-family="'Liberation Sans', 'DejaVu Sans', sans-serif" font-size="9.6" fill="#1a1a1a" stroke="#1a1a1a" stroke-width="0.18" text-anchor="middle" letter-spacing="-0.4">Fri</text>
<text transform="translate(741.92,659.3) scale(0.83,1)" font-family="'Liberation Sans', 'DejaVu Sans', sans-serif" font-size="9.6" fill="#1a1a1a" stroke="#1a1a1a" stroke-width="0.18" text-anchor="middle" letter-spacing="-0.4">Fri</text>
<text transform="translate(762.54,659.3) scale(0.83,1)" font-family="'Liberation Sans', 'DejaVu Sans', sans-serif" font-size="9.6" fill="#1a1a1a" stroke="#1a1a1a" stroke-width="0.18" text-anchor="middle" letter-spacing="-0.4">Sat</text>
<text transform="translate(783.15,659.3) scale(0.83,1)" font-family="'Liberation Sans', 'DejaVu Sans', sans-serif" font-size="9.6" fill="#1a1a1a" stroke="#1a1a1a" stroke-width="0.18" text-anchor="middle" letter-spacing="-0.4">Sat</text>
<text transform="translate(803.77,659.3) scale(0.83,1)" font-family="'Liberation Sans', 'DejaVu Sans', sans-serif" font-size="9.6" fill="#1a1a1a" stroke="#1a1a1a" stroke-width="0.18" text-anchor="middle" letter-spacing="-0.4">Sat</text>
<text transform="translate(824.38,659.3) scale(0.83,1)" font-family="'Liberation Sans', 'DejaVu Sans', sans-serif" font-size="9.6" fill="#1a1a1a" stroke="#1a1a1a" stroke-width="0.18" text-anchor="middle" letter-spacing="-0.4">Sat</text>
<text transform="translate(845,659.3) scale(0.83,1)" font-family="'Liberation Sans', 'DejaVu Sans', sans-serif" font-size="9.6" fill="#1a1a1a" stroke="#1a1a1a" stroke-width="0.18" text-anchor="middle" letter-spacing="-0.4">Sun</text>
<text transform="translate(865.61,659.3) scale(0.83,1)" font-family="'Liberation Sans', 'DejaVu Sans', sans-serif" font-size="9.6" fill="#1a1a1a" stroke="#1a1a1a" stroke-width="0.18" text-anchor="middle" letter-spacing="-0.4">Sun</text>
<text transform="translate(886.23,659.3) scale(0.83,1)" font-family="'Liberation Sans', 'DejaVu Sans', sans-serif" font-size="9.6" fill="#1a1a1a" stroke="#1a1a1a" stroke-width="0.18" text-anchor="middle" letter-spacing="-0.4">Sun</text>
<text transform="translate(906.84,659.3) scale(0.83,1)" font-family="'Liberation Sans', 'DejaVu Sans', sans-serif" font-size="9.6" fill="#1a1a1a" stroke="#1a1a1a" stroke-width="0.18" text-anchor="middle" letter-spacing="-0.4">Sun</text>
<text x="62.4" y="604.2" font-family="'Liberation Sans', 'DejaVu Sans', sans-serif" font-size="12.5" textLength="29.2" lengthAdjust="spacingAndGlyphs" fill="#1a1a1a" text-anchor="end" stroke="#1a1a1a" stroke-width="0.18">Total</text>
<text x="62.4" y="620.6" font-family="'Liberation Sans', 'DejaVu Sans', sans-serif" font-size="12.5" textLength="24.2" lengthAdjust="spacingAndGlyphs" fill="#1a1a1a" text-anchor="end" stroke="#1a1a1a" stroke-width="0.18">QPF</text>
<text x="62.4" y="636.8" font-family="'Liberation Sans', 'DejaVu Sans', sans-serif" font-size="12.5" textLength="31.6" lengthAdjust="spacingAndGlyphs" fill="#1a1a1a" text-anchor="end" stroke="#1a1a1a" stroke-width="0.18">(mm)</text>
<rect x="701.39" y="666.9" width="21.61" height="59.1" fill="#dcdcdc"/>
<rect x="722.01" y="666.9" width="21.61" height="59.1" fill="#dcdcdc"/>
<rect x="742.62" y="666.9" width="21.61" height="59.1" fill="#dcdcdc"/>
<rect x="763.24" y="666.9" width="21.61" height="59.1" fill="#6e6e6e"/>
<rect x="783.85" y="666.9" width="21.61" height="59.1" fill="#505050"/>
<rect x="804.47" y="666.9" width="21.61" height="59.1" fill="#505050"/>
<rect x="825.08" y="666.9" width="21.61" height="59.1" fill="#505050"/>
<rect x="845.7" y="666.9" width="21.61" height="59.1" fill="#505050"/>
<rect x="866.31" y="666.9" width="21.61" height="59.1" fill="#505050"/>
<rect x="886.93" y="666.9" width="20.61" height="59.1" fill="#96d2fa"/>
<text transform="translate(714.6,697.45) rotate(-90) scale(0.87,1)" font-family="'Liberation Sans', 'DejaVu Sans', sans-serif" font-size="12.5" fill="#4a4a4a" stroke="#4a4a4a" stroke-width="0.15" text-anchor="middle">1.1</text>
<text transform="translate(735.22,697.45) rotate(-90) scale(0.87,1)" font-family="'Liberation Sans', 'DejaVu Sans', sans-serif" font-size="12.5" fill="#4a4a4a" stroke="#4a4a4a" stroke-width="0.15" text-anchor="middle">1.1</text>
<text transform="translate(755.83,697.45) rotate(-90) scale(0.87,1)" font-family="'Liberation Sans', 'DejaVu Sans', sans-serif" font-size="12.5" fill="#4a4a4a" stroke="#4a4a4a" stroke-width="0.15" text-anchor="middle">1.1</text>
<text transform="translate(776.45,697.45) rotate(-90) scale(0.87,1)" font-family="'Liberation Sans', 'DejaVu Sans', sans-serif" font-size="12.5" fill="#e0e0e0" stroke="#e0e0e0" stroke-width="0.15" text-anchor="middle">2.6</text>
<text transform="translate(797.06,697.45) rotate(-90) scale(0.87,1)" font-family="'Liberation Sans', 'DejaVu Sans', sans-serif" font-size="12.5" fill="#dcdcdc" stroke="#dcdcdc" stroke-width="0.15" text-anchor="middle">3.8</text>
<text transform="translate(817.68,697.45) rotate(-90) scale(0.87,1)" font-family="'Liberation Sans', 'DejaVu Sans', sans-serif" font-size="12.5" fill="#dcdcdc" stroke="#dcdcdc" stroke-width="0.15" text-anchor="middle">4.3</text>
<text transform="translate(838.29,697.45) rotate(-90) scale(0.87,1)" font-family="'Liberation Sans', 'DejaVu Sans', sans-serif" font-size="12.5" fill="#dcdcdc" stroke="#dcdcdc" stroke-width="0.15" text-anchor="middle">4.3</text>
<text transform="translate(858.9,697.45) rotate(-90) scale(0.87,1)" font-family="'Liberation Sans', 'DejaVu Sans', sans-serif" font-size="12.5" fill="#dcdcdc" stroke="#dcdcdc" stroke-width="0.15" text-anchor="middle">4.3</text>
<text transform="translate(879.52,697.45) rotate(-90) scale(0.87,1)" font-family="'Liberation Sans', 'DejaVu Sans', sans-serif" font-size="12.5" fill="#dcdcdc" stroke="#dcdcdc" stroke-width="0.15" text-anchor="middle">4.3</text>
<text transform="translate(900.13,697.45) rotate(-90) scale(0.87,1)" font-family="'Liberation Sans', 'DejaVu Sans', sans-serif" font-size="12.5" fill="#222" stroke="#222" stroke-width="0.15" text-anchor="middle">5.5</text>
<rect x="72.5" y="666.9" width="846.0" height="59.1" fill="none" stroke="#2b2b2b" stroke-width="1.1"/>
<path d="M83.5 726v4.9M104.5 726v4.9M124.5 726v4.9M145.5 726v4.9M165.5 726v4.9M186.5 726v4.9M207.5 726v4.9M227.5 726v4.9M248.5 726v4.9M268.5 726v4.9M289.5 726v4.9M310.5 726v4.9M330.5 726v4.9M351.5 726v4.9M372.5 726v4.9M392.5 726v4.9M413.5 726v4.9M433.5 726v4.9M454.5 726v4.9M475.5 726v4.9M495.5 726v4.9M516.5 726v4.9M536.5 726v4.9M557.5 726v4.9M578.5 726v4.9M598.5 726v4.9M619.5 726v4.9M639.5 726v4.9M660.5 726v4.9M681.5 726v4.9M701.5 726v4.9M722.5 726v4.9M743.5 726v4.9M763.5 726v4.9M784.5 726v4.9M804.5 726v4.9M825.5 726v4.9M846.5 726v4.9M866.5 726v4.9M887.5 726v4.9M907.5 726v4.9" stroke="#2b2b2b" stroke-width="1.1" fill="none"/>
<path d="M72.5 696.45h-4.9" stroke="#2b2b2b" stroke-width="1.1" fill="none"/>
<text transform="translate(82.75,742.4) scale(0.83,1)" font-family="'Liberation Sans', 'DejaVu Sans', sans-serif" font-size="9.6" fill="#1a1a1a" stroke="#1a1a1a" stroke-width="0.18" text-anchor="middle" letter-spacing="-0.4">0</text>
<text transform="translate(103.36,742.4) scale(0.83,1)" font-family="'Liberation Sans', 'DejaVu Sans', sans-serif" font-size="9.6" fill="#1a1a1a" stroke="#1a1a1a" stroke-width="0.18" text-anchor="middle" letter-spacing="-0.4">6</text>
<text transform="translate(123.98,742.4) scale(0.83,1)" font-family="'Liberation Sans', 'DejaVu Sans', sans-serif" font-size="9.6" fill="#1a1a1a" stroke="#1a1a1a" stroke-width="0.18" text-anchor="middle" letter-spacing="-0.4">12</text>
<text transform="translate(144.59,742.4) scale(0.83,1)" font-family="'Liberation Sans', 'DejaVu Sans', sans-serif" font-size="9.6" fill="#1a1a1a" stroke="#1a1a1a" stroke-width="0.18" text-anchor="middle" letter-spacing="-0.4">18</text>
<text transform="translate(165.21,742.4) scale(0.83,1)" font-family="'Liberation Sans', 'DejaVu Sans', sans-serif" font-size="9.6" fill="#1a1a1a" stroke="#1a1a1a" stroke-width="0.18" text-anchor="middle" letter-spacing="-0.4">24</text>
<text transform="translate(185.82,742.4) scale(0.83,1)" font-family="'Liberation Sans', 'DejaVu Sans', sans-serif" font-size="9.6" fill="#1a1a1a" stroke="#1a1a1a" stroke-width="0.18" text-anchor="middle" letter-spacing="-0.4">30</text>
<text transform="translate(206.44,742.4) scale(0.83,1)" font-family="'Liberation Sans', 'DejaVu Sans', sans-serif" font-size="9.6" fill="#1a1a1a" stroke="#1a1a1a" stroke-width="0.18" text-anchor="middle" letter-spacing="-0.4">36</text>
<text transform="translate(227.05,742.4) scale(0.83,1)" font-family="'Liberation Sans', 'DejaVu Sans', sans-serif" font-size="9.6" fill="#1a1a1a" stroke="#1a1a1a" stroke-width="0.18" text-anchor="middle" letter-spacing="-0.4">42</text>
<text transform="translate(247.67,742.4) scale(0.83,1)" font-family="'Liberation Sans', 'DejaVu Sans', sans-serif" font-size="9.6" fill="#1a1a1a" stroke="#1a1a1a" stroke-width="0.18" text-anchor="middle" letter-spacing="-0.4">48</text>
<text transform="translate(268.28,742.4) scale(0.83,1)" font-family="'Liberation Sans', 'DejaVu Sans', sans-serif" font-size="9.6" fill="#1a1a1a" stroke="#1a1a1a" stroke-width="0.18" text-anchor="middle" letter-spacing="-0.4">54</text>
<text transform="translate(288.9,742.4) scale(0.83,1)" font-family="'Liberation Sans', 'DejaVu Sans', sans-serif" font-size="9.6" fill="#1a1a1a" stroke="#1a1a1a" stroke-width="0.18" text-anchor="middle" letter-spacing="-0.4">60</text>
<text transform="translate(309.51,742.4) scale(0.83,1)" font-family="'Liberation Sans', 'DejaVu Sans', sans-serif" font-size="9.6" fill="#1a1a1a" stroke="#1a1a1a" stroke-width="0.18" text-anchor="middle" letter-spacing="-0.4">66</text>
<text transform="translate(330.13,742.4) scale(0.83,1)" font-family="'Liberation Sans', 'DejaVu Sans', sans-serif" font-size="9.6" fill="#1a1a1a" stroke="#1a1a1a" stroke-width="0.18" text-anchor="middle" letter-spacing="-0.4">72</text>
<text transform="translate(350.74,742.4) scale(0.83,1)" font-family="'Liberation Sans', 'DejaVu Sans', sans-serif" font-size="9.6" fill="#1a1a1a" stroke="#1a1a1a" stroke-width="0.18" text-anchor="middle" letter-spacing="-0.4">78</text>
<text transform="translate(371.36,742.4) scale(0.83,1)" font-family="'Liberation Sans', 'DejaVu Sans', sans-serif" font-size="9.6" fill="#1a1a1a" stroke="#1a1a1a" stroke-width="0.18" text-anchor="middle" letter-spacing="-0.4">84</text>
<text transform="translate(391.97,742.4) scale(0.83,1)" font-family="'Liberation Sans', 'DejaVu Sans', sans-serif" font-size="9.6" fill="#1a1a1a" stroke="#1a1a1a" stroke-width="0.18" text-anchor="middle" letter-spacing="-0.4">90</text>
<text transform="translate(412.59,742.4) scale(0.83,1)" font-family="'Liberation Sans', 'DejaVu Sans', sans-serif" font-size="9.6" fill="#1a1a1a" stroke="#1a1a1a" stroke-width="0.18" text-anchor="middle" letter-spacing="-0.4">96</text>
<text transform="translate(433.2,742.4) scale(0.83,1)" font-family="'Liberation Sans', 'DejaVu Sans', sans-serif" font-size="9.6" fill="#1a1a1a" stroke="#1a1a1a" stroke-width="0.18" text-anchor="middle" letter-spacing="-0.4">102</text>
<text transform="translate(453.82,742.4) scale(0.83,1)" font-family="'Liberation Sans', 'DejaVu Sans', sans-serif" font-size="9.6" fill="#1a1a1a" stroke="#1a1a1a" stroke-width="0.18" text-anchor="middle" letter-spacing="-0.4">108</text>
<text transform="translate(474.43,742.4) scale(0.83,1)" font-family="'Liberation Sans', 'DejaVu Sans', sans-serif" font-size="9.6" fill="#1a1a1a" stroke="#1a1a1a" stroke-width="0.18" text-anchor="middle" letter-spacing="-0.4">114</text>
<text transform="translate(495.05,742.4) scale(0.83,1)" font-family="'Liberation Sans', 'DejaVu Sans', sans-serif" font-size="9.6" fill="#1a1a1a" stroke="#1a1a1a" stroke-width="0.18" text-anchor="middle" letter-spacing="-0.4">120</text>
<text transform="translate(515.66,742.4) scale(0.83,1)" font-family="'Liberation Sans', 'DejaVu Sans', sans-serif" font-size="9.6" fill="#1a1a1a" stroke="#1a1a1a" stroke-width="0.18" text-anchor="middle" letter-spacing="-0.4">126</text>
<text transform="translate(536.28,742.4) scale(0.83,1)" font-family="'Liberation Sans', 'DejaVu Sans', sans-serif" font-size="9.6" fill="#1a1a1a" stroke="#1a1a1a" stroke-width="0.18" text-anchor="middle" letter-spacing="-0.4">132</text>
<text transform="translate(556.89,742.4) scale(0.83,1)" font-family="'Liberation Sans', 'DejaVu Sans', sans-serif" font-size="9.6" fill="#1a1a1a" stroke="#1a1a1a" stroke-width="0.18" text-anchor="middle" letter-spacing="-0.4">138</text>
<text transform="translate(577.51,742.4) scale(0.83,1)" font-family="'Liberation Sans', 'DejaVu Sans', sans-serif" font-size="9.6" fill="#1a1a1a" stroke="#1a1a1a" stroke-width="0.18" text-anchor="middle" letter-spacing="-0.4">144</text>
<text transform="translate(598.12,742.4) scale(0.83,1)" font-family="'Liberation Sans', 'DejaVu Sans', sans-serif" font-size="9.6" fill="#1a1a1a" stroke="#1a1a1a" stroke-width="0.18" text-anchor="middle" letter-spacing="-0.4">150</text>
<text transform="translate(618.73,742.4) scale(0.83,1)" font-family="'Liberation Sans', 'DejaVu Sans', sans-serif" font-size="9.6" fill="#1a1a1a" stroke="#1a1a1a" stroke-width="0.18" text-anchor="middle" letter-spacing="-0.4">156</text>
<text transform="translate(639.35,742.4) scale(0.83,1)" font-family="'Liberation Sans', 'DejaVu Sans', sans-serif" font-size="9.6" fill="#1a1a1a" stroke="#1a1a1a" stroke-width="0.18" text-anchor="middle" letter-spacing="-0.4">162</text>
<text transform="translate(659.96,742.4) scale(0.83,1)" font-family="'Liberation Sans', 'DejaVu Sans', sans-serif" font-size="9.6" fill="#1a1a1a" stroke="#1a1a1a" stroke-width="0.18" text-anchor="middle" letter-spacing="-0.4">168</text>
<text transform="translate(680.58,742.4) scale(0.83,1)" font-family="'Liberation Sans', 'DejaVu Sans', sans-serif" font-size="9.6" fill="#1a1a1a" stroke="#1a1a1a" stroke-width="0.18" text-anchor="middle" letter-spacing="-0.4">174</text>
<text transform="translate(701.19,742.4) scale(0.83,1)" font-family="'Liberation Sans', 'DejaVu Sans', sans-serif" font-size="9.6" fill="#1a1a1a" stroke="#1a1a1a" stroke-width="0.18" text-anchor="middle" letter-spacing="-0.4">180</text>
<text transform="translate(721.81,742.4) scale(0.83,1)" font-family="'Liberation Sans', 'DejaVu Sans', sans-serif" font-size="9.6" fill="#1a1a1a" stroke="#1a1a1a" stroke-width="0.18" text-anchor="middle" letter-spacing="-0.4">186</text>
<text transform="translate(742.42,742.4) scale(0.83,1)" font-family="'Liberation Sans', 'DejaVu Sans', sans-serif" font-size="9.6" fill="#1a1a1a" stroke="#1a1a1a" stroke-width="0.18" text-anchor="middle" letter-spacing="-0.4">192</text>
<text transform="translate(763.04,742.4) scale(0.83,1)" font-family="'Liberation Sans', 'DejaVu Sans', sans-serif" font-size="9.6" fill="#1a1a1a" stroke="#1a1a1a" stroke-width="0.18" text-anchor="middle" letter-spacing="-0.4">198</text>
<text transform="translate(783.65,742.4) scale(0.83,1)" font-family="'Liberation Sans', 'DejaVu Sans', sans-serif" font-size="9.6" fill="#1a1a1a" stroke="#1a1a1a" stroke-width="0.18" text-anchor="middle" letter-spacing="-0.4">204</text>
<text transform="translate(804.27,742.4) scale(0.83,1)" font-family="'Liberation Sans', 'DejaVu Sans', sans-serif" font-size="9.6" fill="#1a1a1a" stroke="#1a1a1a" stroke-width="0.18" text-anchor="middle" letter-spacing="-0.4">210</text>
<text transform="translate(824.88,742.4) scale(0.83,1)" font-family="'Liberation Sans', 'DejaVu Sans', sans-serif" font-size="9.6" fill="#1a1a1a" stroke="#1a1a1a" stroke-width="0.18" text-anchor="middle" letter-spacing="-0.4">216</text>
<text transform="translate(845.5,742.4) scale(0.83,1)" font-family="'Liberation Sans', 'DejaVu Sans', sans-serif" font-size="9.6" fill="#1a1a1a" stroke="#1a1a1a" stroke-width="0.18" text-anchor="middle" letter-spacing="-0.4">222</text>
<text transform="translate(866.11,742.4) scale(0.83,1)" font-family="'Liberation Sans', 'DejaVu Sans', sans-serif" font-size="9.6" fill="#1a1a1a" stroke="#1a1a1a" stroke-width="0.18" text-anchor="middle" letter-spacing="-0.4">228</text>
<text transform="translate(886.73,742.4) scale(0.83,1)" font-family="'Liberation Sans', 'DejaVu Sans', sans-serif" font-size="9.6" fill="#1a1a1a" stroke="#1a1a1a" stroke-width="0.18" text-anchor="middle" letter-spacing="-0.4">234</text>
<text transform="translate(907.34,742.4) scale(0.83,1)" font-family="'Liberation Sans', 'DejaVu Sans', sans-serif" font-size="9.6" fill="#1a1a1a" stroke="#1a1a1a" stroke-width="0.18" text-anchor="middle" letter-spacing="-0.4">240</text>
<text x="62.4" y="687" font-family="'Liberation Sans', 'DejaVu Sans', sans-serif" font-size="12.5" textLength="29.2" lengthAdjust="spacingAndGlyphs" fill="#1a1a1a" text-anchor="end" stroke="#1a1a1a" stroke-width="0.18">Total</text>
<text x="62.4" y="703.4" font-family="'Liberation Sans', 'DejaVu Sans', sans-serif" font-size="12.5" textLength="32.6" lengthAdjust="spacingAndGlyphs" fill="#1a1a1a" text-anchor="end" stroke="#1a1a1a" stroke-width="0.18">Snow</text>
<text x="62.4" y="719.8" font-family="'Liberation Sans', 'DejaVu Sans', sans-serif" font-size="12.5" textLength="25.2" lengthAdjust="spacingAndGlyphs" fill="#1a1a1a" text-anchor="end" stroke="#1a1a1a" stroke-width="0.18">(cm)</text>
<text x="918" y="757.7" font-family="'Liberation Sans', 'DejaVu Sans', sans-serif" font-size="9.4" textLength="375.8" lengthAdjust="spacingAndGlyphs" fill="#1a1a1a" text-anchor="end" stroke="#1a1a1a" stroke-width="0.18">© 2025 WeatherBELL Analytics, LLC. All rights reserved. License required for commercial distribution.</text>
</svg>
</body>
</html>
